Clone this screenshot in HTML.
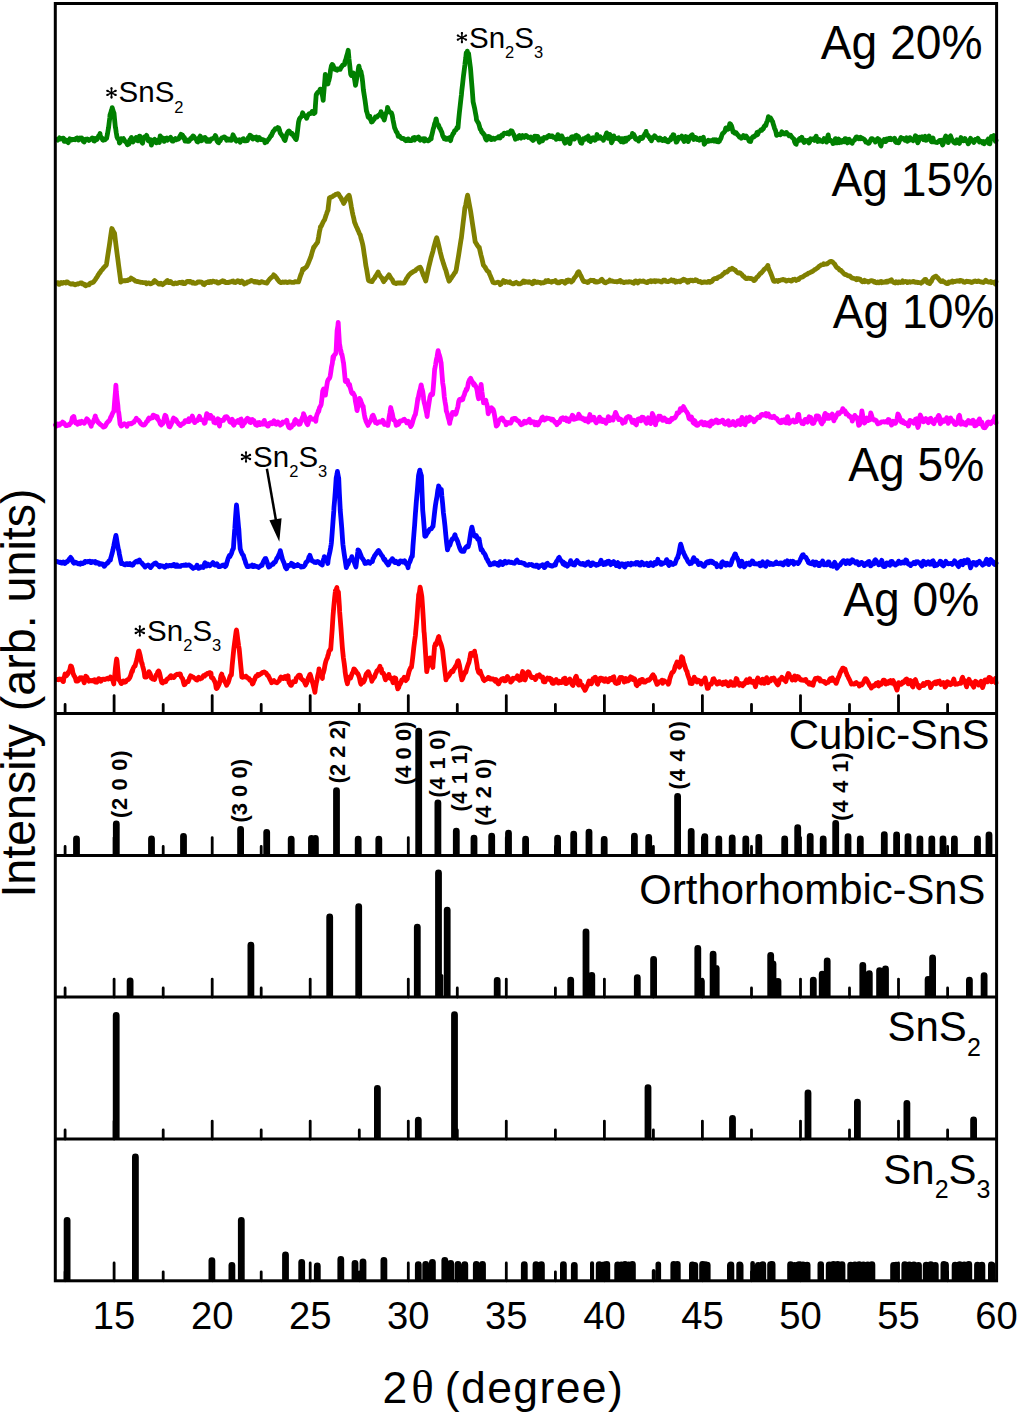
<!DOCTYPE html><html><head><meta charset="utf-8"><style>html,body{margin:0;padding:0;background:#fff;}svg{display:block}</style></head><body>
<svg width="1019" height="1414" viewBox="0 0 1019 1414">
<rect width="1019" height="1414" fill="#fff"/>
<path d="M57.0 139.5 L57.8 140.1 L58.6 138.9 L59.4 137.9 L60.2 139.0 L61.0 138.7 L61.8 138.4 L62.6 138.4 L63.4 138.2 L64.2 141.3 L65.0 141.4 L65.8 141.0 L66.0 140.0 L66.6 140.9 L67.4 141.8 L68.2 142.6 L69.0 140.3 L69.8 138.8 L70.6 139.3 L71.4 140.0 L72.2 139.6 L73.0 139.3 L73.8 139.6 L74.6 139.4 L75.0 139.0 L75.4 139.6 L76.2 138.7 L77.0 137.9 L77.8 138.1 L78.6 140.1 L79.4 139.3 L80.2 138.1 L81.0 138.8 L81.8 138.1 L82.6 139.9 L83.4 141.6 L84.2 141.9 L85.0 139.5 L85.8 139.1 L86.6 139.8 L87.4 139.0 L88.2 139.5 L89.0 140.5 L89.8 139.8 L90.6 139.3 L91.4 138.8 L92.2 138.0 L93.0 138.3 L93.8 140.9 L94.6 141.0 L95.4 138.5 L96.2 139.3 L97.0 139.5 L97.8 137.9 L98.6 136.0 L99.4 135.2 L100.0 133.5 L100.2 135.4 L101.0 137.2 L101.8 138.0 L102.6 139.8 L103.0 139.5 L103.4 140.2 L104.2 139.3 L105.0 139.7 L105.8 138.9 L106.5 138.5 L106.6 138.2 L107.4 134.3 L108.2 129.7 L108.5 128.0 L109.0 124.0 L109.8 117.7 L110.0 115.0 L110.6 113.5 L111.4 110.4 L112.1 108.5 L112.2 107.6 L113.0 110.6 L113.8 112.9 L114.0 113.0 L114.6 119.8 L115.4 127.7 L115.5 127.0 L116.2 132.4 L117.0 137.0 L117.8 138.8 L118.6 139.5 L119.0 139.5 L119.4 143.1 L120.2 142.3 L121.0 138.7 L121.8 139.9 L122.6 139.1 L123.4 138.6 L124.2 140.1 L125.0 141.3 L125.8 142.1 L126.6 143.1 L127.4 144.8 L128.2 143.3 L129.0 144.0 L129.8 139.7 L130.6 139.2 L131.4 137.4 L132.2 139.8 L133.0 141.9 L133.8 140.6 L134.6 140.3 L135.4 138.8 L136.2 137.4 L137.0 137.9 L137.8 140.9 L138.6 140.1 L139.4 136.1 L140.2 136.3 L141.0 137.9 L141.8 142.3 L142.6 143.2 L143.4 138.4 L144.2 137.9 L145.0 136.7 L145.8 136.6 L146.6 135.4 L147.4 137.6 L148.2 140.7 L149.0 141.1 L149.8 139.8 L150.6 139.6 L151.4 145.2 L152.2 141.7 L153.0 141.4 L153.8 140.0 L154.6 139.3 L155.4 141.8 L156.2 142.9 L157.0 142.6 L157.8 140.3 L158.6 141.7 L159.4 142.4 L160.2 135.9 L161.0 136.9 L161.8 138.2 L162.6 137.9 L163.4 139.1 L164.2 141.4 L165.0 138.4 L165.8 138.5 L166.6 138.0 L167.4 140.2 L168.2 139.5 L169.0 138.6 L169.8 138.1 L170.6 137.4 L171.4 138.9 L172.2 141.1 L173.0 141.2 L173.8 140.2 L174.6 139.3 L175.4 138.5 L176.2 139.7 L177.0 139.1 L177.8 139.3 L178.6 139.0 L179.4 137.2 L180.2 135.8 L181.0 134.3 L181.8 135.7 L182.6 135.2 L183.4 138.1 L184.2 137.2 L185.0 141.1 L185.8 140.5 L186.6 140.1 L187.4 141.3 L188.2 141.2 L189.0 141.3 L189.8 140.0 L190.6 138.5 L191.4 138.7 L192.2 137.0 L193.0 136.0 L193.8 136.4 L194.6 137.9 L195.4 138.6 L196.2 138.9 L197.0 141.4 L197.8 141.9 L198.6 139.2 L199.4 137.5 L200.2 136.1 L201.0 140.8 L201.8 140.7 L202.6 137.7 L203.4 138.4 L204.2 137.8 L205.0 137.4 L205.8 138.5 L206.6 141.3 L207.4 141.2 L208.2 141.4 L209.0 139.8 L209.8 141.3 L210.6 140.0 L211.4 139.0 L212.2 138.9 L213.0 138.3 L213.8 137.9 L214.6 137.0 L215.4 135.5 L216.2 137.2 L217.0 141.1 L217.8 142.1 L218.6 142.8 L219.4 141.1 L220.2 141.0 L221.0 138.9 L221.8 137.9 L222.6 137.8 L223.4 137.4 L224.2 136.9 L225.0 137.4 L225.8 137.8 L226.6 140.2 L227.4 139.5 L228.2 140.0 L229.0 139.1 L229.8 140.0 L230.6 140.1 L231.4 140.3 L232.2 138.1 L233.0 134.8 L233.8 136.4 L234.6 137.9 L235.4 140.1 L236.2 141.1 L237.0 140.2 L237.8 140.0 L238.6 140.6 L239.4 139.9 L240.2 142.3 L241.0 140.1 L241.8 139.9 L242.6 139.1 L243.4 138.7 L244.2 140.7 L245.0 140.4 L245.8 140.9 L246.6 140.3 L247.4 140.5 L248.2 137.7 L249.0 137.6 L249.8 135.2 L250.6 135.3 L251.4 136.8 L252.2 138.6 L253.0 139.0 L253.8 137.3 L254.6 137.8 L255.4 137.6 L256.2 137.1 L257.0 139.7 L257.8 140.1 L258.6 139.1 L259.4 137.6 L260.0 138.9 L260.2 139.0 L261.0 139.7 L261.8 139.5 L262.6 139.6 L263.4 139.8 L264.2 140.2 L265.0 142.7 L265.8 141.0 L266.6 141.4 L266.9 141.7 L267.4 140.5 L268.2 139.9 L269.0 138.7 L269.8 137.6 L270.6 135.9 L271.4 135.9 L272.2 133.2 L272.4 133.4 L273.0 131.7 L273.8 130.8 L274.6 129.9 L275.4 128.7 L276.2 128.9 L277.0 128.7 L277.8 127.6 L277.9 127.9 L278.6 127.8 L279.4 129.6 L280.2 133.0 L281.0 134.0 L281.8 135.1 L282.6 136.3 L283.4 137.6 L284.2 139.5 L284.7 140.3 L285.0 140.5 L285.8 137.7 L286.6 134.7 L287.4 132.7 L288.2 131.4 L289.0 131.0 L289.8 131.8 L290.6 132.9 L291.4 134.0 L292.2 133.6 L293.0 134.8 L293.8 136.4 L294.6 137.3 L295.4 138.7 L296.2 139.5 L296.4 138.9 L297.0 135.6 L297.8 128.5 L298.5 122.4 L298.6 121.9 L299.4 119.0 L300.2 117.7 L301.0 117.0 L301.8 116.1 L302.6 112.8 L303.4 114.7 L304.2 115.5 L305.0 115.8 L305.8 116.3 L306.6 118.3 L306.7 118.3 L307.4 116.1 L308.2 114.9 L309.0 113.8 L309.8 113.6 L310.6 113.5 L311.4 112.9 L312.2 111.4 L313.0 113.3 L313.8 113.6 L314.6 111.6 L315.0 112.8 L315.4 105.8 L316.2 94.7 L316.3 95.0 L317.0 93.3 L317.8 92.4 L318.6 91.9 L319.4 91.3 L320.2 89.1 L320.4 89.5 L321.0 91.5 L321.8 93.1 L322.6 96.5 L323.2 100.4 L323.4 97.2 L324.2 87.9 L325.0 78.4 L325.3 74.3 L325.8 76.5 L326.6 78.8 L327.4 81.5 L328.0 84.0 L328.2 82.3 L329.0 80.1 L329.8 76.5 L330.6 69.9 L331.4 66.0 L332.1 64.7 L332.2 64.5 L333.0 65.3 L333.8 67.1 L334.6 69.2 L335.4 68.8 L336.2 69.8 L336.9 70.2 L337.0 69.8 L337.8 68.9 L338.6 69.4 L339.4 69.3 L340.2 69.4 L341.0 67.3 L341.1 67.5 L341.8 66.7 L342.6 65.2 L343.4 65.0 L344.2 64.1 L344.5 64.7 L345.0 61.4 L345.8 59.5 L346.6 56.2 L347.4 53.7 L348.2 50.3 L349.0 59.0 L349.8 65.7 L350.6 73.5 L350.7 74.3 L351.4 75.5 L352.2 75.3 L353.0 74.0 L353.4 73.0 L353.8 75.3 L354.6 79.5 L355.4 84.6 L355.5 85.3 L356.2 81.6 L357.0 76.6 L357.8 73.1 L358.6 67.2 L358.9 66.1 L359.4 68.1 L360.2 70.8 L361.0 71.7 L361.7 75.7 L361.8 75.2 L362.6 81.6 L363.4 90.0 L364.2 95.0 L365.0 100.1 L365.8 105.9 L366.5 111.4 L366.6 111.1 L367.4 113.9 L368.2 117.1 L369.0 117.6 L369.8 116.2 L370.6 119.9 L371.3 121.1 L371.4 122.0 L372.2 121.7 L373.0 120.7 L373.8 119.6 L374.6 118.7 L375.4 117.0 L376.2 117.3 L376.8 116.9 L377.0 117.0 L377.8 115.9 L378.6 115.1 L379.4 115.1 L380.2 113.6 L380.9 112.8 L381.0 111.6 L381.8 114.3 L382.6 117.0 L383.4 117.8 L384.2 120.0 L384.3 119.7 L385.0 116.7 L385.8 113.4 L386.6 112.6 L387.4 109.4 L387.5 107.3 L388.2 109.3 L389.0 111.0 L389.8 112.0 L390.6 112.6 L391.4 112.8 L391.9 114.2 L392.2 115.2 L393.0 119.9 L393.8 123.8 L394.6 127.9 L395.4 129.5 L396.2 131.7 L397.0 132.4 L397.8 134.5 L398.2 136.2 L398.6 135.5 L399.4 136.0 L400.2 137.1 L401.0 137.9 L401.8 138.4 L402.6 138.6 L403.4 138.4 L404.2 139.1 L405.0 140.1 L405.8 140.7 L406.5 140.3 L406.6 140.6 L407.4 139.1 L408.2 139.0 L409.0 140.4 L409.8 139.9 L410.6 140.6 L411.4 140.6 L412.2 140.2 L413.0 138.0 L413.8 138.7 L414.6 139.9 L414.7 137.5 L415.4 138.0 L416.2 138.7 L417.0 137.7 L417.8 138.0 L418.6 137.1 L419.4 139.3 L420.2 140.2 L421.0 139.0 L421.8 139.1 L422.6 139.0 L423.4 138.7 L424.2 139.1 L424.3 141.0 L425.0 138.8 L425.8 140.0 L426.6 140.2 L427.4 140.4 L428.2 140.9 L429.0 140.3 L429.8 139.4 L430.6 138.1 L431.2 138.9 L431.4 136.5 L432.2 133.7 L433.0 129.9 L433.5 128.0 L433.8 127.5 L434.6 123.8 L435.4 121.9 L436.0 119.0 L436.2 119.0 L437.0 122.9 L437.8 124.6 L438.6 125.2 L439.4 127.8 L439.5 127.9 L440.2 128.7 L441.0 130.7 L441.8 132.2 L442.6 135.2 L443.4 137.1 L444.2 138.2 L444.3 138.9 L445.0 137.6 L445.8 139.3 L446.6 139.4 L447.4 138.7 L448.2 138.2 L449.0 137.8 L449.8 139.4 L450.4 140.3 L450.6 140.6 L451.4 137.0 L452.2 135.6 L453.0 133.8 L453.8 133.0 L454.6 130.7 L455.4 130.2 L456.2 129.7 L457.0 127.6 L457.8 127.1 L458.0 127.9 L458.6 120.5 L459.4 112.6 L460.2 105.6 L461.0 98.2 L461.4 95.0 L461.8 90.6 L462.6 83.9 L463.4 76.6 L464.2 70.4 L464.9 64.7 L465.0 63.5 L465.8 57.4 L466.2 53.0 L466.6 54.4 L467.3 51.2 L467.4 53.6 L468.2 54.5 L468.6 53.5 L469.0 56.9 L469.8 63.1 L470.4 67.5 L470.6 69.4 L471.4 79.7 L472.2 89.4 L473.0 100.1 L473.1 101.8 L473.8 104.8 L474.6 108.2 L475.4 112.7 L476.2 116.8 L476.5 119.7 L477.0 120.8 L477.8 122.1 L478.6 123.3 L479.4 126.1 L480.2 129.2 L480.7 129.3 L481.0 129.9 L481.8 132.2 L482.6 132.5 L483.4 134.0 L484.2 134.4 L485.0 137.0 L485.8 139.3 L486.2 137.5 L486.6 140.1 L487.4 137.9 L488.2 136.5 L489.0 136.6 L489.8 136.9 L490.6 139.2 L491.4 139.7 L492.2 139.3 L493.0 138.1 L493.8 138.3 L494.4 138.9 L494.6 139.2 L495.4 138.3 L496.2 138.3 L497.0 137.8 L497.8 137.9 L498.6 136.6 L499.4 136.9 L500.2 137.9 L501.0 135.9 L501.8 135.0 L502.6 135.8 L503.4 134.1 L504.2 133.2 L505.0 133.3 L505.8 133.3 L506.6 133.6 L506.8 133.4 L507.4 132.6 L508.2 132.9 L509.0 134.0 L509.8 132.9 L510.6 131.1 L510.9 130.7 L511.4 131.5 L512.2 131.3 L513.0 133.5 L513.8 134.6 L514.6 136.8 L515.0 137.5 L515.4 139.2 L516.2 137.8 L517.0 137.8 L517.8 138.3 L518.6 136.3 L519.4 135.5 L520.2 137.1 L521.0 138.1 L521.8 136.7 L522.6 135.6 L523.4 136.3 L524.2 137.4 L525.0 136.1 L525.8 135.4 L526.6 135.9 L527.4 136.5 L528.2 137.5 L529.0 137.3 L529.8 137.5 L530.0 137.5 L530.6 137.1 L531.4 139.0 L532.2 139.6 L533.0 140.5 L533.8 139.7 L534.6 136.3 L535.4 137.7 L536.2 136.3 L537.0 138.2 L537.8 136.5 L538.6 140.0 L539.4 142.2 L540.2 141.5 L541.0 140.0 L541.8 138.7 L542.6 140.7 L543.4 139.2 L544.2 137.5 L545.0 137.8 L545.8 138.2 L546.6 138.1 L547.4 136.4 L548.2 136.7 L549.0 135.4 L549.8 136.2 L550.6 136.5 L551.4 135.9 L552.2 136.0 L553.0 137.2 L553.8 136.9 L554.6 137.6 L555.4 137.5 L556.2 139.3 L557.0 138.3 L557.8 134.7 L558.6 137.6 L559.4 138.9 L560.2 138.9 L561.0 136.0 L561.8 136.0 L562.6 137.8 L563.4 138.7 L564.2 141.5 L565.0 143.2 L565.8 142.0 L566.6 139.5 L567.4 139.1 L568.2 141.1 L569.0 142.3 L569.8 143.6 L570.6 140.3 L571.4 137.1 L572.2 136.8 L573.0 138.8 L573.8 139.1 L574.6 139.0 L575.4 135.7 L576.2 135.3 L577.0 136.8 L577.8 136.0 L578.6 136.9 L579.4 138.9 L580.2 141.5 L581.0 143.0 L581.8 143.2 L582.6 140.6 L583.4 138.7 L584.2 138.7 L585.0 139.2 L585.8 137.8 L586.6 138.6 L587.4 136.9 L588.2 136.1 L589.0 140.5 L589.8 140.2 L590.6 141.4 L591.4 139.5 L592.2 138.1 L593.0 137.8 L593.8 139.1 L594.6 140.2 L595.4 139.9 L596.2 138.7 L597.0 134.5 L597.8 138.0 L598.6 138.4 L599.4 137.6 L600.2 136.9 L601.0 137.9 L601.8 138.7 L602.6 138.4 L603.4 140.3 L604.2 137.8 L605.0 136.8 L605.8 135.4 L606.6 132.9 L607.4 135.1 L608.2 138.4 L609.0 138.0 L609.8 134.4 L610.6 136.0 L611.4 142.8 L612.2 141.7 L613.0 139.6 L613.8 135.9 L614.6 138.7 L615.4 138.2 L616.2 138.3 L617.0 138.6 L617.8 138.2 L618.6 137.7 L619.4 140.0 L620.2 140.1 L621.0 141.7 L621.8 138.6 L622.6 138.8 L623.4 142.1 L624.2 138.7 L625.0 138.2 L625.8 141.3 L626.6 139.2 L627.4 137.9 L628.0 139.3 L628.2 138.9 L629.0 138.0 L629.8 136.9 L630.6 136.8 L631.4 136.6 L632.2 135.3 L632.4 133.4 L633.0 134.8 L633.8 134.5 L634.6 136.1 L635.4 138.7 L636.0 139.3 L636.2 138.6 L637.0 138.7 L637.8 139.8 L638.6 141.1 L639.4 138.7 L640.2 137.4 L641.0 137.9 L641.8 137.7 L642.0 138.5 L642.6 138.2 L643.4 136.2 L644.2 135.2 L645.0 133.6 L645.8 132.8 L646.1 131.4 L646.6 133.7 L647.4 135.6 L648.2 135.5 L649.0 137.1 L649.8 137.4 L650.0 139.0 L650.6 137.5 L651.4 140.8 L652.2 139.0 L653.0 137.7 L653.8 137.1 L654.6 135.8 L655.4 136.6 L656.2 137.9 L657.0 137.9 L657.8 138.6 L658.6 140.1 L659.4 139.5 L660.2 138.0 L661.0 139.8 L661.8 139.3 L662.6 140.6 L663.4 140.2 L664.2 139.7 L665.0 138.6 L665.8 140.9 L666.6 140.0 L667.4 141.6 L668.2 141.8 L669.0 140.6 L669.8 139.5 L670.6 139.8 L671.4 137.0 L672.2 137.1 L673.0 134.7 L673.8 134.8 L674.6 138.8 L675.4 138.8 L676.2 142.1 L677.0 141.6 L677.8 139.7 L678.6 137.3 L679.4 138.4 L680.2 138.0 L681.0 137.3 L681.8 136.1 L682.6 136.9 L683.4 140.1 L684.2 141.4 L685.0 138.1 L685.8 136.6 L686.6 137.0 L687.4 139.7 L688.2 141.5 L689.0 139.6 L689.8 136.9 L690.6 136.0 L691.4 135.3 L692.2 134.7 L693.0 136.6 L693.8 139.5 L694.6 137.4 L695.4 137.5 L696.2 137.8 L697.0 139.5 L697.8 139.2 L698.6 139.2 L699.4 140.2 L700.2 138.3 L701.0 139.7 L701.8 139.3 L702.6 139.2 L703.4 137.3 L704.2 144.3 L705.0 143.3 L705.8 141.6 L706.6 141.6 L707.4 141.1 L708.2 140.3 L709.0 141.2 L709.8 140.7 L710.6 140.7 L711.4 140.8 L712.2 140.7 L713.0 139.9 L713.8 140.9 L714.6 139.7 L715.4 140.9 L716.2 139.7 L717.0 141.6 L717.8 140.9 L718.6 141.8 L719.4 141.2 L720.0 139.3 L720.2 139.7 L721.0 138.2 L721.8 135.4 L722.6 133.5 L723.4 132.9 L724.2 132.2 L725.0 131.1 L725.6 128.5 L725.8 128.1 L726.6 127.8 L727.4 128.2 L728.2 129.2 L729.0 127.3 L729.8 123.6 L730.6 124.2 L731.1 125.5 L731.4 125.4 L732.2 128.1 L733.0 132.1 L733.8 131.5 L734.6 133.2 L735.4 133.4 L736.2 132.8 L737.0 133.9 L737.8 135.1 L738.6 135.7 L739.4 137.1 L740.2 136.9 L741.0 137.3 L741.3 138.3 L741.8 137.6 L742.6 136.8 L743.4 135.6 L744.2 137.3 L745.0 137.8 L745.8 137.1 L746.2 136.0 L746.6 136.8 L747.4 137.6 L748.2 138.8 L749.0 140.9 L749.8 141.4 L750.1 141.2 L750.6 141.5 L751.4 138.8 L752.2 137.7 L753.0 136.6 L753.8 137.0 L754.6 136.2 L755.4 135.2 L756.2 135.3 L757.0 132.4 L757.8 134.4 L758.6 131.8 L759.4 131.5 L760.2 130.8 L761.0 129.8 L761.8 130.2 L762.6 128.9 L762.9 128.5 L763.4 128.7 L764.2 126.4 L765.0 125.3 L765.8 125.5 L766.6 122.6 L767.4 120.9 L768.2 118.0 L768.4 116.7 L769.0 118.0 L769.8 118.6 L770.6 118.1 L771.4 119.5 L772.2 121.3 L772.7 121.6 L773.0 123.2 L773.8 125.7 L774.6 128.5 L775.4 130.1 L776.2 133.0 L776.6 135.3 L777.0 134.7 L777.8 134.2 L778.6 134.6 L779.4 134.3 L780.2 134.8 L781.0 134.4 L781.8 131.8 L782.6 133.2 L783.4 133.7 L784.2 133.2 L785.0 134.0 L785.8 133.8 L786.5 132.4 L786.6 133.0 L787.4 133.8 L788.2 134.4 L789.0 135.7 L789.8 135.4 L790.6 135.2 L791.4 136.6 L792.2 137.6 L793.0 138.2 L793.8 138.8 L794.6 141.9 L795.4 143.6 L796.2 144.3 L796.3 142.2 L797.0 141.9 L797.8 141.3 L798.6 139.5 L799.4 139.4 L800.0 140.0 L800.2 138.2 L801.0 139.9 L801.8 137.2 L802.6 140.4 L803.4 141.2 L804.2 142.5 L805.0 140.3 L805.8 140.7 L806.6 140.7 L807.4 140.4 L808.2 141.9 L809.0 142.9 L809.8 141.7 L810.6 138.7 L811.4 139.2 L812.2 139.5 L813.0 139.2 L813.8 138.5 L814.6 140.4 L815.4 137.7 L816.2 136.2 L817.0 140.1 L817.8 141.5 L818.6 139.3 L819.4 139.5 L820.2 141.1 L821.0 141.0 L821.8 140.8 L822.6 141.6 L823.4 140.3 L824.2 138.6 L825.0 139.0 L825.8 141.2 L826.6 142.0 L827.4 137.7 L828.2 134.9 L829.0 140.1 L829.8 140.6 L830.6 140.3 L831.4 141.1 L832.2 141.5 L833.0 143.5 L833.8 143.2 L834.6 140.9 L835.4 138.6 L836.2 140.6 L837.0 142.9 L837.8 140.1 L838.6 139.1 L839.4 142.7 L840.2 141.6 L841.0 140.9 L841.8 142.2 L842.6 140.4 L843.4 141.4 L844.2 141.7 L845.0 138.7 L845.8 138.6 L846.6 141.2 L847.4 142.9 L848.2 139.7 L849.0 139.2 L849.8 140.4 L850.6 142.3 L851.4 142.2 L852.2 143.3 L853.0 141.0 L853.8 140.5 L854.6 140.1 L855.4 138.3 L856.2 137.1 L857.0 136.9 L857.8 137.8 L858.6 138.8 L859.4 138.0 L860.2 137.4 L861.0 138.7 L861.8 137.9 L862.6 138.6 L863.4 138.9 L864.2 139.4 L865.0 140.2 L865.8 142.1 L866.6 141.9 L867.4 142.3 L868.2 143.4 L869.0 143.2 L869.8 141.6 L870.6 139.9 L871.4 138.6 L872.2 138.6 L873.0 139.9 L873.8 140.0 L874.6 140.0 L875.4 142.1 L876.2 140.8 L877.0 139.6 L877.8 138.6 L878.6 139.5 L879.4 139.7 L880.2 144.4 L881.0 146.0 L881.8 141.6 L882.6 142.4 L883.4 141.1 L884.2 139.5 L885.0 140.9 L885.8 141.5 L886.6 139.0 L887.4 139.6 L888.2 139.8 L889.0 138.4 L889.8 139.5 L890.6 138.2 L891.4 139.7 L892.2 139.2 L893.0 138.9 L893.8 139.1 L894.6 138.2 L895.4 141.8 L896.2 142.5 L897.0 142.3 L897.8 140.9 L898.6 142.8 L899.4 140.9 L900.2 139.5 L901.0 137.5 L901.8 138.9 L902.6 138.4 L903.4 138.5 L904.2 138.9 L905.0 140.2 L905.8 139.1 L906.6 137.8 L907.4 141.3 L908.2 139.0 L909.0 140.4 L909.8 137.6 L910.6 138.6 L911.4 139.9 L912.2 139.6 L913.0 140.7 L913.8 140.0 L914.6 138.5 L915.4 135.7 L916.2 136.2 L917.0 140.9 L917.8 142.8 L918.6 141.2 L919.4 137.1 L920.2 137.9 L921.0 137.2 L921.8 136.8 L922.6 138.1 L923.4 139.7 L924.2 137.0 L925.0 136.3 L925.8 140.3 L926.6 140.2 L927.4 139.0 L928.2 138.0 L929.0 136.0 L929.8 138.0 L930.6 140.1 L931.4 141.8 L932.2 139.0 L933.0 138.0 L933.8 141.9 L934.6 141.9 L935.4 142.1 L936.2 142.3 L937.0 142.6 L937.8 142.2 L938.6 141.2 L939.4 140.5 L940.2 140.8 L941.0 140.2 L941.8 142.5 L942.6 145.0 L943.4 143.3 L944.2 139.5 L945.0 138.0 L945.8 135.9 L946.6 137.2 L947.4 137.9 L948.2 142.6 L949.0 140.3 L949.8 136.7 L950.6 135.9 L951.4 138.4 L952.2 139.8 L953.0 141.2 L953.8 142.3 L954.6 142.9 L955.4 141.6 L956.2 143.0 L957.0 139.8 L957.8 140.3 L958.6 142.0 L959.4 143.4 L960.2 141.2 L961.0 137.5 L961.8 139.1 L962.6 140.7 L963.4 140.8 L964.2 140.0 L965.0 138.6 L965.8 140.9 L966.6 141.1 L967.4 141.9 L968.2 143.7 L969.0 142.7 L969.8 139.9 L970.6 138.3 L971.4 140.4 L972.2 140.0 L973.0 140.8 L973.8 142.5 L974.6 141.3 L975.4 139.5 L976.2 139.7 L977.0 139.3 L977.8 138.4 L978.6 139.6 L979.4 142.0 L980.2 141.4 L981.0 141.2 L981.8 141.7 L982.6 142.9 L983.4 141.6 L984.2 143.8 L985.0 141.9 L985.8 141.8 L986.6 141.1 L987.4 140.5 L988.2 139.1 L989.0 143.5 L989.8 143.8 L990.6 139.3 L991.4 136.5 L992.2 138.3 L993.0 136.5 L993.8 135.6 L994.6 137.3 L995.4 141.3 L996.0 140.5" fill="none" stroke="#008000" stroke-width="4.8" stroke-linejoin="round" stroke-linecap="round"/>
<path d="M57.0 282.8 L57.8 282.6 L58.6 284.3 L59.4 284.3 L60.2 283.1 L61.0 282.5 L61.8 283.3 L62.6 283.3 L63.4 282.5 L64.2 282.5 L65.0 282.7 L65.8 283.1 L66.6 281.9 L67.4 281.8 L68.2 282.8 L69.0 283.3 L69.8 283.3 L70.6 284.0 L71.4 284.0 L72.2 284.1 L73.0 283.7 L73.8 284.3 L74.6 284.7 L75.4 284.9 L76.2 284.3 L77.0 284.0 L77.8 284.1 L78.6 283.6 L79.4 283.6 L80.2 283.0 L81.0 283.0 L81.8 282.9 L82.6 284.1 L83.4 284.1 L84.2 284.2 L85.0 285.4 L85.8 285.8 L86.6 285.0 L87.4 285.2 L88.2 284.6 L89.0 284.9 L89.8 283.5 L90.6 283.0 L91.4 283.0 L92.2 282.4 L93.0 282.4 L93.8 281.7 L94.0 281.4 L94.6 280.5 L95.4 279.5 L96.2 278.1 L97.0 277.2 L97.8 275.6 L98.6 274.4 L99.4 273.1 L99.5 273.2 L100.2 272.4 L101.0 270.9 L101.8 270.0 L102.6 269.2 L103.4 268.0 L104.2 267.2 L105.0 266.3 L105.8 265.6 L106.3 265.0 L106.6 263.4 L107.4 258.1 L108.2 252.8 L109.0 247.7 L109.1 247.1 L109.8 242.3 L110.6 236.7 L111.4 231.2 L111.8 228.5 L112.2 228.9 L113.0 230.6 L113.8 232.2 L114.6 233.4 L115.4 240.6 L116.2 246.8 L117.0 253.0 L117.3 255.3 L117.8 258.9 L118.6 265.2 L119.4 271.1 L120.2 277.1 L120.8 282.1 L121.0 281.9 L121.8 281.2 L122.6 280.9 L123.4 280.6 L124.2 280.9 L125.0 280.7 L125.6 280.8 L125.8 280.8 L126.6 280.5 L127.4 280.6 L128.2 279.9 L129.0 279.7 L129.8 279.8 L130.6 278.8 L131.1 278.0 L131.4 278.6 L132.2 278.8 L133.0 279.3 L133.8 279.8 L134.6 280.3 L135.2 280.8 L135.4 281.2 L136.2 281.2 L137.0 281.5 L137.8 281.4 L138.6 281.7 L139.4 282.0 L140.2 282.2 L141.0 282.4 L141.8 282.4 L142.6 282.4 L143.4 282.7 L144.2 282.7 L145.0 282.8 L145.8 283.2 L146.2 282.8 L146.6 283.7 L147.4 283.1 L148.2 283.1 L149.0 282.9 L149.8 283.6 L150.6 283.8 L151.4 283.7 L152.2 283.1 L153.0 282.8 L153.8 281.4 L154.6 280.5 L155.4 281.2 L156.2 281.8 L157.0 282.7 L157.8 283.1 L158.6 284.0 L159.4 283.6 L160.2 284.1 L161.0 283.2 L161.8 284.1 L162.6 284.7 L163.4 284.0 L164.2 283.4 L165.0 282.5 L165.8 282.6 L166.6 281.1 L167.4 280.5 L168.2 282.5 L169.0 282.7 L169.8 282.6 L170.6 281.5 L171.4 282.6 L172.2 283.1 L173.0 283.9 L173.8 283.9 L174.6 283.4 L175.4 283.0 L176.2 283.4 L177.0 283.5 L177.8 283.3 L178.6 282.6 L179.4 282.5 L180.2 282.5 L181.0 283.0 L181.8 282.2 L182.6 282.2 L183.4 283.7 L184.2 283.6 L185.0 283.5 L185.8 282.7 L186.6 281.8 L187.4 281.3 L188.2 281.5 L189.0 281.4 L189.8 282.1 L190.6 281.5 L191.4 282.0 L192.2 282.9 L193.0 282.3 L193.8 283.0 L194.6 283.4 L195.4 283.3 L196.2 283.1 L197.0 282.9 L197.8 281.8 L198.6 281.8 L199.4 282.0 L200.2 282.0 L201.0 282.3 L201.8 282.2 L202.6 283.1 L203.4 284.3 L204.2 284.7 L205.0 283.8 L205.8 282.6 L206.6 282.5 L207.4 282.5 L208.2 281.7 L209.0 282.5 L209.8 281.6 L210.6 281.4 L211.4 282.2 L212.2 281.4 L213.0 281.1 L213.8 281.3 L214.6 281.8 L215.4 282.0 L216.2 281.6 L217.0 281.9 L217.8 283.1 L218.6 283.0 L219.4 282.7 L220.2 282.2 L221.0 281.5 L221.8 281.5 L222.6 280.7 L223.4 281.5 L224.2 281.2 L225.0 282.4 L225.8 282.5 L226.6 282.4 L227.4 282.5 L228.2 282.6 L229.0 282.4 L229.8 281.9 L230.6 282.1 L231.4 281.5 L232.2 281.2 L233.0 281.0 L233.8 282.4 L234.6 282.4 L235.4 282.5 L236.2 282.2 L237.0 281.1 L237.8 280.7 L238.6 281.0 L239.4 282.0 L240.2 282.6 L241.0 281.9 L241.8 281.0 L242.6 281.8 L243.4 282.7 L244.2 283.9 L245.0 283.2 L245.8 283.4 L246.6 283.0 L247.4 281.9 L248.2 281.9 L249.0 281.8 L249.8 281.2 L250.6 280.9 L251.4 280.4 L252.2 280.8 L253.0 281.4 L253.8 281.4 L254.6 282.1 L255.4 281.5 L256.2 282.3 L257.0 281.6 L257.8 282.1 L258.6 282.8 L259.4 282.6 L260.0 282.3 L260.2 282.6 L261.0 281.9 L261.8 281.7 L262.6 282.1 L263.4 282.1 L264.2 282.7 L265.0 282.6 L265.8 282.9 L266.6 282.7 L266.9 283.0 L267.4 282.5 L268.2 280.9 L269.0 279.9 L269.8 278.9 L270.6 278.2 L271.4 277.4 L272.2 277.0 L273.0 276.1 L273.7 274.8 L273.8 275.3 L274.6 275.5 L275.4 276.4 L276.2 277.4 L277.0 278.6 L277.8 279.8 L278.6 280.8 L279.4 281.8 L280.2 282.2 L280.6 282.3 L281.0 282.7 L281.8 282.5 L282.6 282.0 L283.4 282.1 L284.2 282.3 L285.0 281.9 L285.8 282.0 L286.6 282.4 L287.4 282.5 L287.5 282.3 L288.2 282.4 L289.0 282.0 L289.8 282.1 L290.6 281.8 L291.4 282.4 L292.2 282.3 L293.0 282.4 L293.8 282.4 L294.6 281.9 L295.4 281.6 L296.2 281.9 L297.0 281.9 L297.8 281.9 L298.5 281.7 L298.6 281.8 L299.4 279.3 L300.2 276.6 L301.0 274.4 L301.8 272.8 L302.6 269.3 L303.4 269.9 L304.2 268.6 L305.0 268.1 L305.8 267.5 L306.6 266.8 L306.7 266.5 L307.4 265.1 L308.2 263.4 L309.0 261.4 L309.8 259.4 L310.6 257.5 L310.8 256.9 L311.4 255.0 L312.2 252.0 L313.0 249.5 L313.6 247.3 L313.8 247.7 L314.6 246.3 L315.4 245.3 L316.2 244.0 L317.0 243.1 L317.7 241.8 L317.8 241.1 L318.6 236.9 L319.4 232.1 L320.2 228.4 L320.4 226.7 L321.0 226.5 L321.8 225.0 L322.6 223.1 L323.4 221.5 L324.2 220.2 L324.6 219.8 L325.0 218.4 L325.8 215.9 L326.6 213.7 L327.4 211.3 L328.0 210.2 L328.2 207.7 L329.0 201.1 L329.4 197.9 L329.8 197.8 L330.6 197.1 L331.4 197.1 L332.2 196.7 L332.8 196.5 L333.0 196.2 L333.8 195.4 L334.6 195.4 L335.4 194.6 L336.2 194.3 L337.0 194.0 L337.8 194.5 L338.3 193.7 L338.6 194.3 L339.4 195.6 L340.2 196.8 L341.0 198.0 L341.1 197.9 L341.8 199.8 L342.6 201.1 L343.4 202.9 L343.8 203.4 L344.2 202.5 L345.0 201.2 L345.8 199.4 L346.6 197.9 L347.4 196.9 L348.2 196.0 L349.0 195.2 L349.3 195.8 L349.8 198.0 L350.6 202.4 L351.4 207.2 L352.0 210.2 L352.2 211.4 L353.0 215.2 L353.8 218.5 L354.6 222.4 L354.8 222.6 L355.4 224.4 L356.2 226.3 L357.0 227.8 L357.8 229.9 L358.6 231.5 L359.4 233.8 L360.2 234.8 L360.3 235.0 L361.0 238.2 L361.8 240.9 L362.6 244.0 L363.0 245.9 L363.4 248.4 L364.2 254.0 L365.0 259.1 L365.8 265.2 L366.6 269.2 L367.4 274.0 L368.2 279.0 L368.5 280.3 L369.0 280.8 L369.8 281.2 L370.6 281.3 L371.4 281.6 L372.0 281.7 L372.2 281.5 L373.0 279.9 L373.8 279.0 L374.6 278.0 L375.4 276.5 L376.2 275.4 L377.0 274.0 L377.8 272.7 L378.1 272.0 L378.6 273.2 L379.4 274.8 L380.2 276.1 L381.0 277.1 L381.8 277.8 L382.6 279.5 L383.4 281.0 L383.6 281.7 L384.2 280.7 L385.0 280.1 L385.8 278.6 L386.6 278.0 L387.4 277.1 L388.2 275.9 L389.0 275.0 L389.1 274.8 L389.8 276.2 L390.6 277.5 L391.4 278.8 L392.2 279.5 L393.0 281.4 L393.8 282.9 L394.6 283.0 L395.4 283.1 L396.2 283.5 L397.0 283.1 L397.8 282.8 L398.6 283.0 L399.4 283.0 L400.2 282.7 L401.0 283.1 L401.8 283.1 L402.6 283.2 L403.4 283.2 L403.7 283.0 L404.2 282.8 L405.0 281.3 L405.8 280.2 L406.6 278.4 L407.4 277.3 L408.2 276.1 L409.0 275.1 L409.8 274.2 L410.6 273.4 L411.4 272.9 L412.2 272.4 L413.0 271.7 L413.8 271.5 L414.6 270.9 L415.4 270.7 L416.2 269.5 L417.0 269.0 L417.8 268.4 L418.6 267.8 L419.4 267.5 L420.2 267.2 L421.0 268.6 L421.8 271.1 L422.6 273.0 L423.4 275.4 L424.2 277.0 L425.0 279.0 L425.7 281.0 L425.8 280.7 L426.6 276.9 L427.4 273.4 L428.2 269.8 L429.0 266.1 L429.8 262.9 L430.6 259.6 L431.2 256.9 L431.4 256.7 L432.2 253.7 L433.0 251.1 L433.8 247.5 L434.6 244.6 L435.4 241.7 L436.2 239.0 L436.7 237.7 L437.0 238.6 L437.8 241.7 L438.6 244.9 L439.4 248.2 L440.2 251.8 L441.0 255.0 L441.5 256.9 L441.8 258.3 L442.6 260.6 L443.4 263.4 L444.2 265.6 L445.0 268.2 L445.8 270.1 L446.6 273.1 L447.4 276.0 L448.2 278.4 L449.0 281.2 L449.1 281.0 L449.8 280.3 L450.6 278.8 L451.4 277.9 L452.2 276.6 L453.0 275.5 L453.8 274.3 L454.6 273.0 L455.4 272.1 L455.9 270.7 L456.2 269.9 L457.0 264.8 L457.8 260.2 L458.6 255.4 L459.4 250.2 L460.2 245.0 L461.0 239.9 L461.4 237.7 L461.8 234.2 L462.6 227.4 L463.4 220.4 L464.2 214.1 L464.9 207.5 L465.0 207.9 L465.8 204.5 L466.6 199.9 L467.4 196.1 L467.6 195.1 L468.2 198.3 L469.0 202.7 L469.8 206.9 L470.6 211.1 L471.1 214.3 L471.4 216.4 L472.2 221.9 L473.0 227.2 L473.8 232.4 L474.6 237.6 L475.2 241.8 L475.4 242.2 L476.2 243.3 L477.0 244.8 L477.8 246.0 L478.6 247.1 L479.3 247.3 L479.4 248.3 L480.2 251.6 L481.0 255.1 L481.8 258.1 L482.6 261.6 L483.4 265.2 L484.2 266.1 L485.0 267.0 L485.8 268.5 L486.6 269.8 L487.4 271.0 L488.2 271.5 L488.9 272.0 L489.0 272.6 L489.8 274.6 L490.6 276.4 L491.4 278.5 L492.2 280.3 L493.0 282.3 L493.8 282.7 L494.6 282.9 L495.4 282.8 L496.2 282.7 L497.0 282.5 L497.8 282.2 L498.6 282.3 L499.4 282.7 L499.9 283.0 L500.2 284.7 L501.0 284.1 L501.8 282.9 L502.6 282.0 L503.4 280.6 L504.2 281.8 L505.0 282.5 L505.8 281.4 L506.6 281.9 L507.4 281.9 L508.2 282.3 L509.0 282.4 L509.8 281.8 L510.6 283.0 L511.4 283.2 L512.2 283.5 L513.0 283.9 L513.8 283.9 L514.6 283.0 L515.4 282.7 L516.2 282.3 L517.0 282.9 L517.8 283.2 L518.6 283.9 L519.4 283.9 L520.2 283.8 L521.0 283.2 L521.8 283.2 L522.6 281.9 L523.4 281.0 L524.2 281.2 L525.0 282.4 L525.8 282.0 L526.6 281.6 L527.4 282.0 L528.2 282.4 L529.0 281.7 L529.8 281.8 L530.0 282.3 L530.6 282.6 L531.4 282.9 L532.2 283.7 L533.0 283.4 L533.8 281.1 L534.6 281.1 L535.4 282.2 L536.2 282.5 L537.0 282.3 L537.8 282.0 L538.6 282.3 L539.4 282.5 L540.2 282.5 L541.0 283.2 L541.8 282.7 L542.6 282.7 L543.4 282.9 L544.2 282.5 L545.0 282.2 L545.8 280.8 L546.6 281.7 L547.4 280.9 L548.2 280.5 L549.0 281.7 L549.8 281.6 L550.6 281.7 L551.4 282.2 L552.2 281.3 L553.0 281.3 L553.8 281.5 L554.6 281.3 L555.4 280.5 L556.2 281.7 L557.0 282.6 L557.8 282.9 L558.6 282.3 L559.4 282.8 L560.2 281.7 L561.0 281.4 L561.8 281.5 L562.6 281.5 L563.4 281.6 L564.2 282.5 L565.0 283.2 L565.8 281.9 L566.6 280.5 L567.4 281.7 L568.2 279.9 L569.0 280.4 L569.8 280.5 L570.6 281.4 L571.4 282.0 L572.0 281.3 L572.2 281.3 L573.0 280.5 L573.8 278.9 L574.6 277.7 L575.4 276.7 L576.2 275.7 L577.0 274.0 L577.8 272.4 L578.6 271.6 L578.8 271.7 L579.4 272.9 L580.2 274.6 L581.0 276.0 L581.8 277.9 L582.6 279.7 L583.4 281.2 L583.6 281.5 L584.2 281.5 L585.0 281.4 L585.8 281.7 L586.6 282.0 L587.4 282.5 L588.2 282.4 L589.0 281.2 L589.8 280.9 L590.6 280.2 L591.4 280.6 L592.2 280.4 L593.0 280.3 L593.8 280.4 L594.6 281.8 L595.4 282.0 L596.2 281.4 L597.0 282.0 L597.8 281.6 L598.6 281.8 L599.4 281.3 L600.2 281.2 L601.0 279.7 L601.8 279.2 L602.6 280.2 L603.4 281.3 L604.2 282.4 L605.0 282.6 L605.8 282.8 L606.6 281.8 L607.4 281.9 L608.2 281.5 L609.0 281.2 L609.8 280.1 L610.6 281.0 L611.4 281.0 L612.2 281.0 L613.0 281.3 L613.8 281.5 L614.6 281.7 L615.4 281.6 L616.2 281.7 L617.0 281.9 L617.8 281.6 L618.6 281.4 L619.4 280.9 L620.2 280.5 L621.0 281.9 L621.8 281.4 L622.6 282.0 L623.4 282.5 L624.2 282.5 L625.0 282.1 L625.8 282.0 L626.6 281.8 L627.4 282.2 L628.2 282.1 L629.0 281.6 L629.8 281.8 L630.6 281.9 L631.4 282.1 L632.2 282.5 L633.0 282.2 L633.8 283.3 L634.6 281.4 L635.4 280.8 L636.2 281.0 L637.0 282.0 L637.8 282.9 L638.6 281.6 L639.4 281.1 L640.2 280.8 L641.0 281.4 L641.8 281.3 L642.6 281.4 L643.4 280.9 L644.2 281.6 L645.0 281.8 L645.8 282.3 L646.6 282.6 L647.4 282.7 L648.2 281.4 L649.0 281.4 L649.8 281.1 L650.6 280.7 L651.4 281.7 L652.2 281.0 L653.0 281.3 L653.8 280.9 L654.6 280.7 L655.4 281.7 L656.2 280.7 L657.0 281.2 L657.8 280.8 L658.6 281.0 L659.4 281.1 L660.2 281.4 L661.0 281.8 L661.8 282.0 L662.6 281.3 L663.4 280.2 L664.2 280.1 L665.0 280.2 L665.8 281.3 L666.6 281.3 L667.4 281.7 L668.2 281.6 L669.0 281.2 L669.8 281.0 L670.6 280.6 L671.4 279.8 L672.2 280.4 L673.0 281.1 L673.8 280.3 L674.6 281.2 L675.4 282.1 L676.2 281.1 L677.0 281.9 L677.8 281.6 L678.6 281.2 L679.4 281.4 L680.2 281.8 L681.0 280.7 L681.8 280.6 L682.6 279.9 L683.4 279.2 L684.2 280.2 L685.0 279.8 L685.8 280.5 L686.6 280.5 L687.4 282.3 L688.2 282.2 L689.0 280.3 L689.8 280.4 L690.6 280.2 L691.4 280.6 L692.2 280.2 L693.0 280.9 L693.8 280.6 L694.6 280.7 L695.4 279.7 L696.2 280.0 L697.0 280.3 L697.8 281.0 L698.6 281.7 L699.4 281.8 L700.2 281.4 L701.0 282.2 L701.8 282.7 L702.6 282.2 L703.4 282.4 L704.2 281.9 L705.0 281.8 L705.8 282.3 L706.6 282.3 L707.4 282.4 L708.2 281.5 L709.0 281.5 L709.8 282.3 L710.0 281.5 L710.6 281.5 L711.4 281.8 L712.2 281.1 L713.0 279.6 L713.8 279.1 L714.6 278.6 L715.4 278.5 L716.2 278.5 L717.0 278.5 L717.8 277.5 L718.6 277.1 L719.4 276.6 L720.2 276.6 L721.0 276.0 L721.8 275.5 L722.6 274.5 L723.4 273.9 L724.2 273.3 L725.0 272.2 L725.8 272.2 L726.6 272.1 L727.4 271.6 L728.2 270.7 L729.0 270.1 L729.8 269.1 L730.6 269.4 L731.4 269.0 L732.1 268.6 L732.2 268.3 L733.0 269.0 L733.8 269.3 L734.6 270.0 L735.4 270.3 L736.2 271.5 L737.0 272.1 L737.8 272.9 L738.6 273.0 L739.4 272.7 L740.2 273.0 L741.0 273.8 L741.8 274.4 L742.6 275.6 L743.4 276.5 L744.2 276.7 L745.0 277.7 L745.3 278.0 L745.8 278.4 L746.6 278.7 L747.4 278.4 L748.2 278.1 L749.0 278.3 L749.8 278.5 L750.6 278.4 L751.4 278.6 L752.2 278.8 L753.0 279.6 L753.8 280.7 L754.6 280.5 L754.7 279.5 L755.4 279.5 L756.2 278.1 L757.0 277.1 L757.8 276.7 L758.6 275.6 L759.4 274.7 L760.2 273.6 L761.0 273.3 L761.8 272.3 L762.6 271.4 L763.4 270.5 L764.2 269.4 L765.0 268.7 L765.8 268.2 L766.6 267.3 L767.4 266.4 L767.9 265.4 L768.2 267.0 L769.0 269.4 L769.8 271.1 L770.6 272.8 L771.4 274.9 L772.2 277.0 L773.0 279.4 L773.6 281.0 L773.8 281.1 L774.6 281.4 L775.4 281.1 L776.2 280.5 L777.0 280.8 L777.8 281.4 L778.6 280.4 L779.4 280.6 L780.2 280.4 L781.0 279.8 L781.8 279.8 L782.6 279.6 L783.4 279.4 L784.2 280.0 L785.0 279.8 L785.8 280.9 L786.6 281.1 L787.4 280.5 L788.2 280.4 L789.0 280.1 L789.8 280.5 L790.6 280.6 L791.4 281.1 L792.2 280.7 L793.0 279.5 L793.8 279.7 L794.6 279.1 L795.4 279.4 L796.2 280.4 L797.0 279.7 L797.8 279.7 L798.6 278.8 L798.7 279.5 L799.4 278.6 L800.2 277.8 L801.0 277.3 L801.8 277.2 L802.6 276.9 L803.4 276.4 L804.2 275.8 L805.0 275.2 L805.8 274.8 L806.6 274.4 L807.4 274.2 L808.2 273.3 L809.0 273.0 L809.8 272.7 L810.6 272.3 L811.3 271.7 L811.4 271.8 L812.2 271.6 L813.0 271.0 L813.8 270.4 L814.6 269.7 L815.4 269.5 L816.2 268.8 L817.0 268.2 L817.8 267.7 L818.6 266.7 L819.4 266.0 L820.2 265.8 L821.0 265.1 L821.8 264.8 L822.6 264.7 L823.4 264.6 L823.8 263.8 L824.2 264.2 L825.0 264.0 L825.8 264.2 L826.6 264.0 L827.4 263.8 L828.2 262.8 L829.0 262.4 L829.8 261.7 L830.6 261.6 L831.4 261.3 L831.7 261.3 L832.2 261.7 L833.0 262.3 L833.8 263.6 L834.6 263.9 L835.4 265.5 L836.2 266.8 L837.0 267.8 L837.8 267.9 L838.6 268.7 L839.4 269.6 L839.6 270.1 L840.2 270.2 L841.0 270.4 L841.8 271.4 L842.6 272.1 L843.4 273.2 L844.2 273.9 L845.0 274.5 L845.8 274.4 L846.6 274.8 L847.4 275.5 L848.2 275.8 L849.0 275.9 L849.8 275.9 L850.6 276.8 L851.4 277.6 L852.1 278.0 L852.2 278.2 L853.0 278.1 L853.8 278.5 L854.6 278.7 L855.4 278.9 L856.2 279.6 L857.0 278.6 L857.8 279.4 L858.6 278.7 L859.4 279.0 L860.2 279.3 L861.0 280.5 L861.8 281.4 L862.6 281.8 L863.4 281.0 L864.2 280.4 L865.0 281.6 L865.8 280.9 L866.6 281.4 L867.4 281.5 L868.2 282.1 L869.0 281.6 L869.8 281.0 L870.6 280.8 L871.4 280.6 L872.2 280.9 L873.0 280.8 L873.8 281.4 L874.0 282.0 L874.6 281.6 L875.4 282.6 L876.2 282.7 L877.0 282.8 L877.8 282.1 L878.6 282.8 L879.4 281.8 L880.2 281.9 L881.0 281.4 L881.8 282.7 L882.6 281.9 L883.4 282.3 L884.2 282.4 L885.0 281.8 L885.8 282.3 L886.6 281.2 L887.4 282.0 L888.2 281.1 L889.0 280.8 L889.8 281.2 L890.6 280.3 L891.4 279.7 L892.2 281.4 L893.0 281.7 L893.8 282.5 L894.6 282.8 L895.4 283.0 L896.2 281.7 L897.0 282.5 L897.8 282.9 L898.6 282.0 L899.4 281.9 L900.2 282.5 L901.0 282.4 L901.8 281.9 L902.6 280.9 L903.4 282.3 L904.2 281.6 L905.0 281.6 L905.8 281.5 L906.6 281.7 L907.4 282.6 L908.2 282.1 L909.0 281.9 L909.8 281.6 L910.6 282.2 L911.4 281.8 L912.2 281.9 L913.0 281.6 L913.8 281.3 L914.6 282.0 L915.4 282.4 L916.2 282.2 L917.0 282.1 L917.8 282.5 L918.6 282.6 L919.4 282.6 L920.2 282.6 L921.0 283.2 L921.8 282.3 L922.6 282.1 L923.4 280.9 L924.2 280.1 L925.0 279.3 L925.8 279.4 L926.6 281.5 L927.4 282.7 L928.2 282.4 L929.0 283.1 L929.8 283.6 L930.0 281.5 L930.6 282.2 L931.4 281.3 L932.2 279.4 L933.0 277.9 L933.8 277.4 L934.6 276.7 L935.4 276.3 L935.6 276.5 L936.2 276.3 L937.0 277.2 L937.8 277.9 L938.6 278.8 L939.4 279.9 L940.2 280.7 L941.0 281.5 L941.8 281.2 L942.6 280.8 L943.4 281.8 L944.2 281.7 L945.0 282.2 L945.8 283.0 L946.6 283.6 L947.4 283.5 L948.2 283.5 L949.0 281.9 L949.8 282.2 L950.6 282.3 L951.4 281.7 L952.2 281.0 L953.0 282.1 L953.8 281.4 L954.6 281.3 L955.4 281.6 L956.2 281.0 L957.0 280.8 L957.8 281.1 L958.6 281.0 L959.4 281.4 L960.2 280.5 L961.0 280.4 L961.8 281.0 L962.6 281.0 L963.4 282.0 L964.2 281.9 L965.0 282.3 L965.8 281.6 L966.6 281.2 L967.4 281.6 L968.2 281.3 L969.0 281.9 L969.8 281.7 L970.6 281.9 L971.4 282.5 L972.2 282.3 L973.0 281.9 L973.8 281.4 L974.6 281.1 L975.4 281.0 L976.2 281.5 L977.0 281.5 L977.8 281.1 L978.6 281.0 L979.4 281.6 L980.2 281.7 L981.0 282.0 L981.8 282.0 L982.6 282.3 L983.4 282.5 L984.2 281.9 L985.0 281.1 L985.8 280.2 L986.6 281.1 L987.4 281.8 L988.2 281.7 L989.0 282.2 L989.8 282.2 L990.6 281.5 L991.4 282.6 L992.2 282.3 L993.0 282.1 L993.8 282.8 L994.6 283.0 L995.4 284.1 L996.0 281.5" fill="none" stroke="#808000" stroke-width="4.8" stroke-linejoin="round" stroke-linecap="round"/>
<path d="M55.5 425.0 L56.3 426.2 L57.1 425.7 L57.9 424.1 L58.7 425.3 L59.5 425.2 L60.3 423.6 L61.1 423.8 L61.9 423.4 L62.7 422.0 L63.5 422.7 L63.7 422.9 L64.3 423.4 L65.1 424.4 L65.9 425.6 L66.7 425.7 L67.5 425.2 L68.3 425.1 L69.1 424.4 L69.2 425.0 L69.9 423.8 L70.7 423.2 L71.5 421.4 L72.3 417.7 L73.1 416.9 L73.4 417.4 L73.9 416.6 L74.7 420.9 L75.5 422.7 L76.3 422.1 L77.1 423.1 L77.5 424.3 L77.9 422.3 L78.7 422.1 L79.5 421.8 L80.3 423.4 L81.1 422.6 L81.9 421.4 L82.7 422.0 L83.5 422.7 L84.3 423.3 L85.1 422.0 L85.9 420.8 L86.7 418.8 L87.1 420.8 L87.5 419.3 L88.3 420.4 L89.1 421.6 L89.9 423.6 L90.7 424.7 L91.2 426.3 L91.5 424.6 L92.3 423.2 L93.1 422.2 L93.9 420.1 L94.7 418.0 L95.3 416.0 L95.5 416.7 L96.3 418.9 L97.1 420.2 L97.9 422.2 L98.7 422.9 L99.5 423.6 L100.3 424.6 L101.1 424.9 L101.9 425.5 L102.7 426.4 L103.5 427.1 L104.3 426.7 L105.0 426.3 L105.1 426.4 L105.9 425.0 L106.7 423.2 L107.5 422.3 L108.3 421.4 L109.1 420.9 L109.9 419.5 L110.4 418.1 L110.7 417.2 L111.5 416.1 L112.3 413.8 L113.1 412.3 L113.9 411.2 L114.7 400.4 L115.5 391.2 L115.9 385.1 L116.3 391.6 L117.1 399.3 L117.9 405.9 L118.3 411.2 L118.7 412.3 L119.5 418.6 L120.1 424.3 L120.3 423.6 L121.1 426.0 L121.9 425.9 L122.7 424.5 L123.5 424.3 L124.3 423.7 L125.1 424.3 L125.9 424.9 L126.7 425.2 L126.9 426.3 L127.5 424.7 L128.3 423.7 L129.1 423.7 L129.9 423.9 L130.7 423.4 L131.5 423.8 L132.3 423.1 L133.1 422.5 L133.9 422.2 L134.7 420.8 L135.5 420.1 L136.3 418.3 L136.5 419.5 L137.1 419.3 L137.9 420.0 L138.7 420.4 L139.5 421.4 L140.3 422.9 L141.1 423.8 L141.9 424.4 L142.7 424.9 L143.4 425.0 L143.5 425.0 L144.3 424.9 L145.1 424.2 L145.9 423.0 L146.7 421.4 L147.5 421.1 L148.3 418.9 L148.9 418.1 L149.1 419.4 L149.9 418.8 L150.7 418.2 L151.5 417.5 L152.3 417.8 L153.1 415.2 L153.9 415.4 L154.7 416.8 L155.5 416.3 L156.3 417.8 L157.1 418.5 L157.2 416.7 L157.9 419.5 L158.7 420.2 L159.5 421.8 L160.3 424.0 L161.1 424.7 L161.3 425.0 L161.9 424.3 L162.7 423.6 L163.5 422.0 L164.3 418.0 L165.1 415.3 L165.4 416.0 L165.9 415.9 L166.7 419.0 L167.5 421.5 L168.3 424.0 L169.1 426.6 L169.5 426.3 L169.9 426.7 L170.7 425.2 L171.5 423.3 L172.3 422.0 L173.1 418.9 L173.6 418.1 L173.9 418.7 L174.7 418.8 L175.5 419.3 L176.3 420.2 L177.1 422.0 L177.9 422.7 L178.7 424.2 L179.5 424.4 L180.3 425.5 L180.5 425.6 L181.1 424.5 L181.9 424.4 L182.7 423.5 L183.5 423.5 L184.3 422.8 L185.1 420.7 L185.9 420.6 L186.7 420.9 L187.5 421.4 L188.3 420.2 L188.8 418.8 L189.1 421.5 L189.9 420.7 L190.7 419.3 L191.5 419.3 L192.3 416.0 L193.1 418.3 L193.9 421.0 L194.7 422.6 L195.5 421.4 L196.3 420.6 L197.1 420.9 L197.9 419.7 L198.7 417.9 L199.5 416.3 L200.3 419.5 L201.1 419.6 L201.9 419.6 L202.7 420.2 L203.5 420.8 L204.3 423.3 L205.1 422.9 L205.9 418.1 L206.7 413.6 L207.5 414.3 L208.3 418.1 L209.1 417.6 L209.9 418.3 L210.7 415.4 L211.5 416.7 L212.3 417.5 L213.1 417.6 L213.9 422.4 L214.7 421.1 L215.5 422.9 L216.3 421.2 L217.1 420.0 L217.9 418.8 L218.7 423.9 L219.5 426.0 L220.3 420.2 L221.1 420.3 L221.9 420.5 L222.7 420.5 L223.5 420.3 L224.3 418.4 L225.1 416.9 L225.9 416.8 L226.7 416.6 L227.5 417.5 L228.3 418.9 L229.1 419.5 L229.9 421.9 L230.7 422.3 L231.5 420.3 L232.3 419.3 L233.1 424.2 L233.9 425.2 L234.7 423.4 L235.5 421.8 L236.3 422.4 L237.1 421.5 L237.9 420.5 L238.7 421.0 L239.5 422.7 L240.3 419.5 L241.1 419.1 L241.9 426.1 L242.7 425.8 L243.5 423.7 L244.3 423.4 L245.1 422.2 L245.9 420.0 L246.7 419.1 L247.5 418.2 L248.3 419.1 L249.1 419.1 L249.9 422.3 L250.7 422.6 L251.5 421.2 L252.3 419.4 L253.1 421.4 L253.9 420.5 L254.7 422.7 L255.5 424.5 L256.3 423.1 L257.1 425.4 L257.9 422.6 L258.7 423.5 L259.5 422.5 L260.3 424.5 L261.1 423.6 L261.9 423.8 L262.7 424.2 L263.5 421.7 L264.3 420.4 L265.1 423.2 L265.9 424.6 L266.7 424.4 L267.5 426.1 L268.3 426.1 L269.1 423.3 L269.9 423.1 L270.7 422.7 L271.5 422.4 L272.3 423.7 L273.1 422.5 L273.9 420.7 L274.7 422.2 L275.5 423.9 L276.3 424.2 L277.1 422.1 L277.9 422.0 L278.7 423.0 L279.5 423.5 L280.3 425.2 L281.1 423.2 L281.9 424.0 L282.7 422.0 L283.5 422.2 L284.3 422.3 L285.1 421.8 L285.9 421.3 L286.7 420.2 L287.5 423.4 L288.3 426.0 L289.1 427.5 L289.9 428.0 L290.7 426.6 L291.5 426.9 L292.3 424.7 L293.1 425.0 L293.9 424.6 L294.7 420.7 L295.5 419.6 L296.3 421.3 L297.1 422.3 L297.9 421.6 L298.7 424.4 L299.5 422.8 L300.0 424.0 L300.3 423.3 L301.1 420.9 L301.9 418.9 L302.7 416.8 L303.4 415.8 L303.5 413.7 L304.3 415.6 L305.1 417.7 L305.9 421.6 L306.7 423.4 L307.5 424.5 L307.6 424.7 L308.3 422.7 L309.1 419.9 L309.9 417.6 L310.3 417.2 L310.7 418.0 L311.5 419.0 L312.3 418.9 L313.1 419.3 L313.9 419.0 L314.7 418.5 L315.5 419.8 L315.8 421.3 L316.3 417.0 L317.1 414.3 L317.9 412.5 L318.5 410.3 L318.7 411.5 L319.5 407.7 L320.3 406.5 L321.1 404.7 L321.3 403.4 L321.9 398.7 L322.7 391.1 L323.5 389.0 L324.3 390.5 L325.1 393.3 L325.4 395.2 L325.9 391.3 L326.7 386.4 L327.5 381.4 L328.3 379.5 L329.1 378.8 L329.9 377.4 L330.2 375.9 L330.7 372.8 L331.5 367.1 L332.3 363.4 L333.0 356.7 L333.1 359.9 L333.9 355.9 L334.7 354.7 L335.5 353.8 L336.0 352.6 L336.3 347.5 L337.1 330.6 L337.9 325.9 L338.2 322.5 L338.7 331.7 L339.5 344.4 L339.6 344.3 L340.3 348.5 L341.1 351.7 L341.2 354.0 L341.9 354.3 L342.7 358.4 L343.3 362.2 L343.5 362.5 L344.3 370.5 L345.1 379.1 L345.3 381.4 L345.9 381.6 L346.7 380.6 L347.5 380.5 L348.3 384.4 L349.1 385.6 L349.5 384.2 L349.9 386.5 L350.7 389.4 L351.5 392.4 L352.3 393.5 L353.1 393.1 L353.9 394.4 L354.3 395.2 L354.7 396.0 L355.5 401.8 L356.3 405.7 L357.0 410.3 L357.1 410.6 L357.9 406.3 L358.7 402.1 L359.5 398.4 L359.8 399.3 L360.3 399.5 L361.1 401.8 L361.9 403.9 L362.7 406.9 L363.2 406.2 L363.5 409.4 L364.3 414.4 L365.1 418.6 L365.3 418.5 L365.9 421.0 L366.7 422.6 L367.5 424.2 L368.0 425.4 L368.3 424.3 L369.1 423.2 L369.9 421.6 L370.7 420.8 L371.5 418.4 L372.3 415.8 L372.8 415.8 L373.1 415.2 L373.9 417.1 L374.7 419.3 L375.5 422.7 L375.6 422.7 L376.3 422.3 L377.1 423.4 L377.9 422.7 L378.7 422.0 L379.5 421.6 L380.3 422.1 L381.1 422.0 L381.9 422.0 L382.4 421.3 L382.7 420.3 L383.5 421.5 L384.3 424.5 L385.1 423.9 L385.9 423.8 L386.7 424.2 L387.5 425.3 L387.9 425.4 L388.3 423.4 L389.1 417.4 L389.9 412.9 L390.7 407.5 L391.5 411.0 L392.3 413.6 L393.1 417.9 L393.4 419.9 L393.9 419.5 L394.7 420.8 L395.5 421.8 L396.2 425.4 L396.3 423.7 L397.1 423.2 L397.9 424.5 L398.7 424.1 L399.5 421.4 L400.3 421.0 L401.1 421.3 L401.9 420.8 L402.7 420.5 L403.5 419.5 L404.3 419.3 L404.4 419.9 L405.1 420.1 L405.9 420.9 L406.7 422.8 L407.5 422.4 L408.3 421.4 L409.1 423.0 L409.9 424.7 L410.7 426.5 L411.3 425.4 L411.5 425.3 L412.3 423.2 L413.1 420.1 L413.9 417.7 L414.7 415.5 L415.4 414.4 L415.5 413.6 L416.3 409.3 L417.1 403.8 L417.9 398.1 L418.1 399.3 L418.7 395.4 L419.5 391.4 L420.3 389.0 L421.1 385.1 L421.2 384.9 L421.9 388.3 L422.7 391.4 L423.5 397.1 L423.6 399.3 L424.3 403.0 L425.1 406.0 L425.9 409.9 L426.7 413.6 L427.1 416.5 L427.5 412.7 L428.3 407.7 L429.1 402.3 L429.8 397.9 L429.9 397.3 L430.7 394.7 L431.5 393.8 L432.3 393.4 L432.6 394.6 L433.1 389.7 L433.9 379.7 L434.6 369.8 L434.7 369.4 L435.5 365.1 L436.3 360.0 L437.1 356.7 L437.9 351.6 L438.1 350.6 L438.7 353.2 L439.5 355.5 L440.3 358.6 L440.8 361.6 L441.1 362.7 L441.9 373.1 L442.7 382.8 L443.5 387.7 L444.3 396.8 L445.1 402.2 L445.9 406.7 L446.3 411.1 L446.7 411.8 L447.5 414.4 L448.3 417.9 L449.1 420.5 L449.7 423.4 L449.9 421.7 L450.7 418.8 L451.5 416.1 L452.3 413.5 L452.5 412.4 L453.1 413.2 L453.9 412.6 L454.7 413.7 L455.5 414.3 L455.9 413.8 L456.3 412.6 L457.1 409.2 L457.9 406.7 L458.7 401.4 L459.5 399.5 L460.3 399.2 L461.1 400.2 L461.9 400.0 L462.1 398.7 L462.7 399.6 L463.5 396.5 L464.3 394.9 L465.1 392.0 L465.9 390.9 L466.2 389.1 L466.7 390.0 L467.5 387.8 L468.3 383.1 L469.1 380.7 L469.9 379.1 L470.3 378.8 L470.7 378.3 L471.5 380.3 L472.3 381.5 L473.1 383.1 L473.8 385.0 L473.9 383.5 L474.7 384.6 L475.5 385.8 L476.3 387.6 L476.5 387.7 L477.1 390.5 L477.9 395.6 L478.6 398.7 L478.7 397.5 L479.5 392.8 L480.3 389.1 L481.1 384.3 L481.9 391.6 L482.7 397.4 L483.4 401.4 L483.5 402.8 L484.3 402.1 L485.1 401.0 L485.9 400.4 L486.1 402.8 L486.7 403.7 L487.5 407.1 L488.2 413.8 L488.3 412.1 L489.1 412.0 L489.9 410.7 L490.7 409.0 L490.9 409.7 L491.5 407.8 L492.3 408.7 L493.1 409.4 L493.7 411.1 L493.9 411.8 L494.7 416.2 L495.5 421.4 L496.3 426.2 L496.4 424.8 L497.1 425.4 L497.9 424.2 L498.7 420.9 L499.5 420.0 L500.3 419.1 L501.1 418.3 L501.9 417.9 L502.7 418.6 L503.5 420.5 L504.3 421.4 L505.1 421.7 L505.9 422.8 L506.1 424.8 L506.7 422.5 L507.5 423.8 L508.3 422.5 L509.1 423.1 L509.9 422.7 L510.7 423.1 L511.5 421.6 L512.3 418.9 L513.1 419.6 L513.9 418.5 L514.7 418.5 L515.5 418.5 L515.7 419.3 L516.3 419.3 L517.1 420.6 L517.9 420.7 L518.7 421.1 L519.5 422.4 L520.3 423.8 L521.1 424.5 L521.2 424.8 L521.9 424.1 L522.7 424.1 L523.5 423.0 L524.3 421.2 L525.1 422.2 L525.9 422.8 L526.7 421.9 L527.5 422.0 L528.3 420.5 L529.1 420.2 L529.4 419.3 L529.9 420.7 L530.7 422.7 L531.5 421.4 L532.3 421.9 L533.1 421.9 L533.9 422.0 L534.7 423.2 L534.9 424.8 L535.5 422.9 L536.3 422.4 L537.1 423.5 L537.9 425.0 L538.7 423.7 L539.5 421.9 L540.3 421.0 L541.1 420.1 L541.9 417.7 L542.7 417.1 L543.1 419.3 L543.5 418.3 L544.3 420.0 L545.1 419.3 L545.9 419.3 L546.7 418.0 L547.5 418.3 L548.3 418.4 L549.1 418.3 L549.9 418.9 L550.7 419.0 L551.5 420.0 L552.3 420.0 L552.8 419.3 L553.1 419.7 L553.9 420.7 L554.7 422.0 L555.5 422.9 L556.3 422.7 L556.9 424.8 L557.1 422.5 L557.9 422.4 L558.7 422.9 L559.5 422.3 L560.3 420.2 L561.1 418.5 L561.9 418.4 L562.4 417.9 L562.7 417.7 L563.5 418.9 L564.3 419.6 L565.1 419.0 L565.9 418.1 L566.7 420.9 L567.5 418.8 L568.3 420.1 L569.1 421.4 L569.9 419.4 L570.7 418.6 L571.5 417.4 L572.3 415.2 L573.1 415.7 L573.9 419.4 L574.7 417.5 L575.5 419.0 L576.3 418.4 L577.1 418.3 L577.9 418.1 L578.7 414.2 L579.5 415.5 L580.3 418.4 L581.1 417.6 L581.9 417.6 L582.7 419.2 L583.5 418.5 L584.3 420.0 L585.1 420.7 L585.9 418.9 L586.7 419.0 L587.5 419.6 L588.3 422.0 L589.1 418.2 L589.9 414.5 L590.7 417.7 L591.5 420.0 L592.3 418.9 L593.1 418.3 L593.9 417.2 L594.7 419.0 L595.5 421.9 L596.3 422.7 L597.1 420.7 L597.9 420.9 L598.7 421.1 L599.5 417.2 L600.3 418.3 L601.1 419.2 L601.9 421.4 L602.7 421.6 L603.5 420.0 L604.3 420.4 L605.1 421.7 L605.9 423.3 L606.7 421.6 L607.5 420.0 L608.3 416.6 L609.1 420.5 L609.9 420.6 L610.7 418.0 L611.5 418.3 L612.3 418.9 L613.1 420.0 L613.9 416.5 L614.7 415.3 L615.5 412.4 L616.3 414.0 L617.1 416.3 L617.9 417.6 L618.7 419.7 L619.5 419.7 L620.3 419.0 L621.1 419.5 L621.9 420.8 L622.7 423.2 L623.5 421.5 L624.3 421.8 L625.1 422.2 L625.9 418.5 L626.7 417.5 L627.5 417.2 L628.3 416.4 L629.1 417.1 L629.9 416.9 L630.7 419.0 L631.5 420.2 L632.3 422.4 L633.1 421.2 L633.9 420.2 L634.7 423.4 L635.5 423.8 L636.3 424.9 L637.1 421.4 L637.9 419.2 L638.7 419.1 L639.5 418.6 L640.3 418.7 L641.1 420.8 L641.9 417.1 L642.7 417.5 L643.5 417.5 L644.3 420.1 L645.1 420.3 L645.9 422.4 L646.7 423.3 L647.5 419.5 L648.3 417.8 L649.1 418.6 L649.9 421.2 L650.7 423.6 L651.5 421.9 L652.3 413.4 L653.1 415.1 L653.9 417.5 L654.7 422.0 L655.5 424.8 L656.3 420.0 L657.1 420.5 L657.9 419.9 L658.7 416.2 L659.5 418.1 L660.3 416.3 L661.1 417.7 L661.9 419.7 L662.7 420.4 L663.5 420.2 L664.3 418.0 L665.1 419.0 L665.9 420.3 L666.7 421.5 L667.5 420.0 L668.3 420.6 L669.1 421.9 L669.9 421.7 L670.6 420.3 L670.7 420.0 L671.5 418.6 L672.3 419.4 L673.1 418.5 L673.9 417.9 L674.7 417.9 L675.5 416.9 L676.3 415.4 L677.0 414.0 L677.1 412.9 L677.9 413.0 L678.7 412.8 L679.5 412.0 L680.3 408.7 L681.1 409.3 L681.9 410.1 L682.7 408.1 L683.5 406.6 L683.6 407.4 L684.3 408.1 L685.1 409.7 L685.9 411.1 L686.7 411.9 L687.5 413.5 L688.0 414.0 L688.3 415.6 L689.1 418.5 L689.9 419.2 L690.7 416.8 L691.5 417.1 L692.3 419.3 L693.1 422.6 L693.9 423.4 L694.2 423.5 L694.7 420.5 L695.5 422.1 L696.3 425.2 L697.1 425.3 L697.9 425.1 L698.7 424.2 L699.5 423.6 L700.3 422.7 L701.1 422.0 L701.9 422.0 L702.7 423.2 L703.5 424.9 L704.3 424.7 L705.1 422.5 L705.9 423.9 L706.7 425.2 L707.5 425.2 L708.3 422.9 L709.1 425.4 L709.9 426.0 L710.7 421.4 L711.5 421.1 L712.3 424.0 L713.1 422.8 L713.9 421.7 L714.7 422.3 L715.5 420.3 L716.3 419.9 L717.1 420.5 L717.9 422.8 L718.7 421.5 L719.5 422.3 L720.3 421.1 L721.1 421.1 L721.9 421.7 L722.7 420.2 L723.5 421.5 L724.3 423.7 L725.1 424.1 L725.9 423.4 L726.7 423.0 L727.5 421.5 L728.3 420.7 L729.1 425.2 L729.9 424.9 L730.7 423.4 L731.5 424.4 L732.3 423.8 L733.1 421.5 L733.9 423.7 L734.7 424.8 L735.5 425.4 L736.3 424.6 L737.1 424.3 L737.9 420.8 L738.7 420.7 L739.5 422.0 L740.3 424.6 L741.1 421.3 L741.9 417.4 L742.7 419.8 L743.5 421.2 L744.3 424.1 L745.1 424.8 L745.9 421.8 L746.7 417.8 L747.5 418.9 L748.3 421.3 L749.1 420.6 L749.9 417.0 L750.7 419.0 L751.5 419.3 L752.3 418.8 L753.1 419.5 L753.9 421.8 L754.7 420.9 L755.4 420.3 L755.5 419.9 L756.3 419.0 L757.1 418.2 L757.9 417.2 L758.7 417.7 L759.5 417.7 L760.3 416.5 L761.0 415.0 L761.1 415.7 L761.9 414.4 L762.7 414.4 L763.5 415.1 L764.3 414.7 L765.1 415.0 L765.9 415.7 L766.0 413.3 L766.7 416.0 L767.5 414.3 L768.3 413.9 L769.1 415.8 L769.9 417.0 L770.7 416.4 L771.5 416.8 L772.0 417.5 L772.3 417.2 L773.1 416.9 L773.9 416.2 L774.7 417.7 L775.5 418.1 L776.3 418.2 L777.1 418.9 L777.9 420.3 L778.7 421.4 L779.5 422.0 L780.3 422.6 L781.1 421.5 L781.3 422.7 L781.9 420.1 L782.7 422.1 L783.5 420.7 L784.3 419.8 L785.1 420.1 L785.9 422.9 L786.7 419.6 L787.5 416.6 L788.3 419.0 L789.1 423.4 L789.9 422.6 L790.7 420.8 L791.5 421.3 L792.3 420.7 L793.1 420.1 L793.9 421.4 L794.7 422.1 L795.5 421.5 L796.3 421.7 L797.1 420.3 L797.9 414.6 L798.7 414.4 L799.5 420.4 L800.3 420.6 L801.1 421.4 L801.9 423.3 L802.7 423.5 L803.5 423.7 L804.3 421.5 L805.1 419.5 L805.9 419.4 L806.7 421.5 L807.5 422.1 L808.3 419.1 L809.1 416.8 L809.9 417.4 L810.7 417.5 L811.5 419.4 L812.3 423.3 L813.1 423.5 L813.9 423.0 L814.7 420.3 L815.5 420.1 L816.3 415.9 L817.1 416.8 L817.9 416.0 L818.7 416.4 L819.5 418.8 L820.3 420.2 L821.1 422.9 L821.9 423.7 L822.7 420.9 L823.5 421.4 L824.3 415.8 L825.1 413.4 L825.9 414.2 L826.7 418.3 L827.5 418.1 L828.3 415.3 L829.1 418.4 L829.9 416.5 L830.7 417.4 L831.5 415.4 L832.3 414.0 L833.1 418.1 L833.9 420.9 L834.7 417.9 L835.5 418.0 L836.3 415.9 L837.1 414.7 L837.9 413.0 L838.7 413.5 L839.0 414.0 L839.5 412.6 L840.3 412.5 L841.1 412.0 L841.9 410.7 L842.5 409.7 L842.7 408.7 L843.5 409.6 L844.3 411.4 L845.1 411.0 L845.9 413.0 L846.0 414.0 L846.7 413.3 L847.5 414.3 L848.3 414.9 L849.1 416.4 L849.9 416.1 L850.7 416.9 L851.5 418.6 L852.0 419.0 L852.3 421.1 L853.1 418.5 L853.9 417.8 L854.7 415.4 L855.5 416.5 L856.3 418.2 L857.1 417.6 L857.9 420.3 L858.7 425.4 L859.5 424.8 L860.3 420.5 L861.1 418.8 L861.9 410.8 L862.7 415.5 L863.5 420.4 L864.3 423.1 L865.1 422.3 L865.9 418.8 L866.7 418.1 L867.5 419.2 L868.3 420.4 L869.1 419.8 L869.9 419.9 L870.7 412.9 L871.5 415.0 L872.3 418.1 L873.1 419.1 L873.9 420.0 L874.7 419.6 L875.5 420.3 L876.3 420.5 L877.1 422.6 L877.9 423.8 L878.7 423.0 L879.5 423.3 L880.3 423.0 L881.1 422.1 L881.9 421.9 L882.7 421.8 L883.5 421.7 L884.3 421.9 L885.1 422.1 L885.9 421.5 L886.7 421.2 L887.5 422.3 L888.3 419.5 L889.1 419.8 L889.9 421.7 L890.7 423.2 L891.5 425.1 L892.3 423.5 L893.1 421.3 L893.9 423.3 L894.7 422.9 L895.5 423.3 L896.3 421.5 L897.1 418.5 L897.9 414.0 L898.7 415.1 L899.5 416.9 L900.3 419.7 L901.1 421.7 L901.9 422.2 L902.7 420.7 L903.5 422.8 L904.3 422.2 L905.1 423.6 L905.9 423.4 L906.7 423.2 L907.5 423.4 L908.3 426.0 L909.1 424.0 L909.9 420.4 L910.7 421.7 L911.5 421.1 L912.3 421.8 L913.1 422.2 L913.9 423.1 L914.7 421.8 L915.5 419.2 L916.3 418.8 L917.1 424.4 L917.9 427.5 L918.7 425.4 L919.5 418.3 L920.3 415.0 L921.1 417.1 L921.9 418.2 L922.7 421.4 L923.5 421.8 L924.3 420.8 L925.1 419.6 L925.9 418.6 L926.7 420.9 L927.5 421.7 L928.3 422.6 L929.1 420.3 L929.9 418.7 L930.7 418.2 L931.5 421.3 L932.3 421.8 L933.1 422.9 L933.9 423.6 L934.7 421.3 L935.5 419.6 L936.3 420.3 L937.1 418.8 L937.9 416.8 L938.7 415.4 L939.5 416.9 L940.3 423.8 L941.1 422.8 L941.9 422.0 L942.7 419.8 L943.5 419.8 L944.3 421.3 L945.1 421.0 L945.9 419.4 L946.7 417.7 L947.5 420.1 L948.3 423.4 L949.1 420.8 L949.9 419.9 L950.7 418.0 L951.5 421.1 L952.3 420.2 L953.1 421.1 L953.9 422.5 L954.7 424.3 L955.5 424.6 L956.3 423.9 L957.1 423.5 L957.9 421.2 L958.7 416.5 L959.5 415.4 L960.3 420.0 L961.1 424.2 L961.9 421.5 L962.7 422.5 L963.5 424.0 L964.3 423.4 L965.1 424.4 L965.9 424.9 L966.7 422.2 L967.5 422.6 L968.3 420.5 L969.1 422.6 L969.9 423.1 L970.7 422.2 L971.5 423.2 L972.3 420.6 L973.1 420.2 L973.9 421.2 L974.7 425.9 L975.5 425.7 L976.3 425.3 L977.1 423.9 L977.9 421.3 L978.7 420.4 L979.5 418.9 L980.3 423.9 L981.1 422.6 L981.9 422.2 L982.7 425.8 L983.5 427.5 L984.3 426.4 L985.1 427.7 L985.9 426.5 L986.7 425.3 L987.5 422.5 L988.3 421.9 L989.1 422.3 L989.9 422.4 L990.7 423.7 L991.5 422.7 L992.3 422.0 L993.1 420.5 L993.9 420.0 L994.7 416.8 L995.5 418.7 L996.0 423.0" fill="none" stroke="#FF00FF" stroke-width="4.8" stroke-linejoin="round" stroke-linecap="round"/>
<path d="M57.0 561.5 L57.8 561.9 L58.6 562.0 L59.4 562.5 L60.2 562.2 L61.0 562.4 L61.8 563.2 L62.6 563.1 L63.4 562.0 L63.7 563.0 L64.2 562.5 L65.0 563.5 L65.8 562.6 L66.6 561.7 L67.4 561.8 L67.5 561.0 L68.2 560.8 L69.0 559.5 L69.8 558.4 L70.6 557.4 L71.4 558.4 L72.2 559.9 L73.0 562.1 L73.8 563.2 L74.6 562.8 L74.7 563.0 L75.4 562.3 L76.2 562.6 L77.0 563.0 L77.8 563.6 L78.6 563.8 L79.4 563.4 L80.2 564.1 L81.0 562.9 L81.8 563.2 L82.6 563.6 L83.4 563.0 L84.2 562.4 L84.3 563.0 L85.0 561.5 L85.8 561.4 L86.6 561.7 L87.4 561.9 L88.2 561.6 L89.0 561.3 L89.8 561.2 L90.6 562.5 L91.4 562.6 L92.2 561.5 L93.0 561.7 L93.8 562.0 L94.6 562.3 L95.3 561.5 L95.4 562.9 L96.2 563.2 L97.0 562.5 L97.8 562.6 L98.6 563.0 L99.4 564.3 L100.2 564.1 L101.0 563.6 L101.8 564.4 L102.6 563.9 L103.4 564.8 L104.2 566.3 L104.3 566.3 L105.0 565.5 L105.8 564.2 L106.6 563.6 L107.4 563.1 L108.2 562.4 L109.0 560.8 L109.8 560.4 L110.4 560.1 L110.6 558.6 L111.4 555.8 L112.2 553.0 L113.0 549.6 L113.2 548.5 L113.8 545.8 L114.6 541.7 L115.4 537.8 L115.9 535.4 L116.2 536.7 L117.0 541.6 L117.8 546.3 L118.6 550.4 L118.7 549.8 L119.4 554.2 L120.2 558.0 L121.0 562.0 L121.4 563.6 L121.8 562.7 L122.6 563.5 L123.4 564.1 L124.2 564.5 L125.0 564.9 L125.8 563.9 L126.6 563.6 L127.4 563.7 L128.2 564.6 L129.0 564.1 L129.8 563.6 L130.6 564.8 L131.4 564.7 L132.2 565.2 L132.4 564.3 L133.0 565.0 L133.8 563.4 L134.6 562.7 L135.4 561.9 L136.2 561.3 L137.0 561.1 L137.8 561.9 L138.6 560.4 L139.3 560.1 L139.4 560.0 L140.2 561.6 L141.0 562.5 L141.8 563.0 L142.6 564.1 L143.4 565.0 L144.2 565.8 L145.0 567.1 L145.8 566.2 L146.6 565.5 L147.4 565.3 L148.2 565.0 L149.0 565.5 L149.8 566.7 L150.6 567.5 L151.4 566.6 L151.7 566.3 L152.2 565.3 L153.0 564.7 L153.8 564.1 L154.6 563.3 L155.4 563.2 L155.8 563.0 L156.2 563.4 L157.0 564.5 L157.8 565.1 L158.6 565.7 L159.4 566.8 L159.9 566.3 L160.2 565.5 L161.0 565.8 L161.8 565.9 L162.6 566.1 L163.4 566.1 L164.2 567.1 L165.0 567.3 L165.8 566.6 L166.6 565.3 L167.4 565.7 L168.2 566.0 L169.0 565.6 L169.8 565.4 L170.6 565.6 L171.4 565.9 L172.2 565.4 L173.0 564.9 L173.6 565.0 L173.8 564.4 L174.6 565.9 L175.4 566.2 L176.2 564.9 L177.0 565.0 L177.8 566.3 L178.6 566.1 L179.4 566.3 L180.2 565.9 L180.5 566.3 L181.0 565.7 L181.8 565.3 L182.6 565.4 L183.4 565.4 L184.2 565.1 L185.0 565.3 L185.8 564.7 L186.6 565.4 L187.4 565.1 L188.2 565.1 L189.0 565.0 L189.8 565.4 L190.0 565.6 L190.6 565.9 L191.4 566.8 L192.2 567.6 L193.0 568.4 L193.8 567.8 L194.6 567.9 L195.4 567.3 L196.2 566.8 L197.0 565.2 L197.8 567.7 L198.6 568.4 L199.4 568.0 L200.2 567.6 L201.0 566.7 L201.8 567.4 L202.6 567.0 L203.4 567.4 L204.2 564.7 L205.0 562.8 L205.8 564.3 L206.6 566.0 L207.4 563.9 L208.2 564.4 L209.0 565.4 L209.8 565.8 L210.6 565.0 L211.4 564.5 L212.2 563.5 L213.0 562.5 L213.8 563.6 L214.6 564.9 L215.4 565.2 L216.2 564.8 L217.0 563.9 L217.8 565.1 L218.6 566.5 L219.4 566.2 L220.2 566.5 L221.0 565.9 L221.8 565.8 L222.6 565.2 L223.4 565.0 L224.2 565.6 L225.0 566.6 L225.8 565.9 L226.5 564.5 L226.6 563.4 L227.4 560.9 L228.2 558.2 L229.0 556.4 L229.4 555.6 L229.8 556.8 L230.6 555.0 L231.4 553.6 L232.2 550.8 L233.0 548.8 L233.4 548.7 L233.8 542.2 L234.6 530.8 L234.8 529.0 L235.4 519.3 L236.2 508.4 L236.5 505.0 L237.0 510.1 L237.8 518.7 L238.6 527.6 L238.8 529.0 L239.4 538.6 L240.2 548.7 L241.0 551.2 L241.8 553.0 L242.6 554.6 L243.4 555.4 L244.2 558.5 L245.0 560.4 L245.8 563.3 L246.6 565.1 L247.1 566.4 L247.4 566.2 L248.2 566.5 L249.0 566.5 L249.8 566.0 L250.6 566.0 L251.4 565.9 L252.2 565.0 L253.0 566.6 L253.8 566.7 L254.6 565.6 L255.0 566.0 L255.4 566.2 L256.2 566.3 L257.0 566.6 L257.8 566.8 L258.6 567.4 L259.4 566.7 L260.2 566.2 L261.0 565.7 L261.8 564.5 L262.0 565.5 L262.6 563.6 L263.4 561.7 L264.2 560.3 L265.0 558.7 L265.8 558.5 L266.6 560.7 L267.4 563.0 L268.2 565.9 L268.7 567.0 L269.0 566.8 L269.8 566.5 L270.6 565.4 L271.4 565.0 L272.2 564.3 L273.0 563.6 L273.1 564.4 L273.8 562.6 L274.6 562.4 L275.4 561.9 L276.2 559.9 L277.0 557.9 L277.5 558.0 L277.8 557.1 L278.6 555.2 L279.4 553.5 L280.2 551.5 L280.3 550.7 L281.0 553.5 L281.8 556.5 L282.6 559.8 L283.4 561.5 L284.2 563.4 L285.0 565.9 L285.4 567.3 L285.8 567.9 L286.6 568.8 L287.4 566.7 L288.2 565.5 L289.0 565.9 L289.8 565.2 L290.6 564.8 L291.4 563.3 L292.2 563.8 L293.0 566.0 L293.2 564.4 L293.8 566.6 L294.6 565.4 L295.4 566.0 L296.2 565.5 L297.0 565.7 L297.8 564.6 L298.6 565.5 L299.4 565.8 L300.2 565.8 L301.0 567.0 L301.8 566.4 L302.6 566.8 L303.4 566.6 L304.2 566.1 L305.0 565.0 L305.1 565.0 L305.8 562.7 L306.6 561.8 L307.4 561.5 L308.2 559.8 L309.0 556.9 L309.8 555.8 L309.9 555.3 L310.6 557.8 L311.4 559.6 L312.0 560.8 L312.2 560.9 L313.0 561.3 L313.8 561.7 L314.6 562.4 L315.4 561.9 L316.2 562.5 L317.0 561.7 L317.5 561.5 L317.8 561.6 L318.6 562.1 L319.4 562.7 L320.2 563.6 L321.0 564.4 L321.8 563.7 L322.3 565.0 L322.6 562.5 L323.4 559.9 L324.2 557.4 L324.3 556.7 L325.0 558.5 L325.8 558.7 L326.6 560.5 L327.4 562.2 L327.8 563.5 L328.2 559.7 L329.0 555.6 L329.8 552.3 L330.6 548.0 L331.2 544.3 L331.4 542.8 L332.2 532.5 L333.0 521.5 L333.8 511.0 L334.0 507.2 L334.6 500.4 L335.4 489.9 L336.2 478.0 L337.0 474.3 L337.4 471.5 L337.8 473.7 L338.6 477.9 L338.7 478.0 L339.4 493.8 L340.1 507.2 L340.2 509.8 L341.0 519.0 L341.8 528.8 L342.6 540.5 L342.9 544.3 L343.4 548.3 L344.2 553.9 L345.0 559.2 L345.8 564.5 L346.3 567.7 L346.6 566.9 L347.4 565.1 L348.2 564.0 L349.0 561.6 L349.8 560.3 L350.6 559.8 L351.4 558.5 L351.8 556.7 L352.2 558.4 L353.0 559.9 L353.8 561.4 L354.6 563.5 L355.4 565.7 L355.9 567.0 L356.2 564.8 L357.0 558.3 L357.8 552.0 L358.0 549.8 L358.6 550.3 L359.4 551.6 L360.2 553.6 L361.0 555.7 L361.4 556.7 L361.8 557.8 L362.6 558.6 L363.4 559.9 L364.2 560.9 L364.9 563.5 L365.0 563.4 L365.8 563.3 L366.6 563.1 L367.4 562.4 L368.2 561.5 L369.0 562.8 L369.8 563.3 L370.6 562.1 L371.4 561.9 L372.2 561.1 L372.4 561.5 L373.0 558.7 L373.8 557.7 L374.6 555.6 L375.4 554.8 L376.2 553.5 L377.0 552.7 L377.8 551.3 L378.6 550.5 L379.4 551.7 L380.2 553.0 L381.0 554.4 L381.8 555.5 L382.6 556.4 L383.4 558.4 L384.2 559.9 L384.8 559.4 L385.0 560.0 L385.8 561.5 L386.6 562.9 L387.4 563.7 L388.2 565.0 L389.0 563.5 L389.8 561.7 L390.6 560.9 L391.4 559.9 L392.2 559.2 L392.3 558.7 L393.0 559.4 L393.8 561.3 L394.6 562.5 L395.4 562.5 L396.2 561.4 L397.0 562.0 L397.8 563.2 L398.5 563.5 L398.6 563.9 L399.4 563.0 L400.2 560.9 L401.0 561.1 L401.8 561.1 L402.6 561.4 L403.4 562.2 L404.2 562.3 L404.7 560.8 L405.0 562.2 L405.8 563.2 L406.6 564.4 L407.4 565.0 L408.1 567.7 L408.2 566.2 L409.0 563.1 L409.8 561.9 L410.6 559.6 L411.4 557.3 L412.2 555.3 L412.3 556.7 L413.0 545.5 L413.8 535.4 L414.6 525.4 L415.4 513.7 L415.7 510.0 L416.2 503.3 L417.0 494.3 L417.8 484.6 L418.5 476.0 L418.6 475.3 L419.4 471.8 L419.8 470.1 L420.2 471.7 L421.0 474.6 L421.4 475.6 L421.8 486.2 L422.6 507.0 L422.7 510.0 L423.4 517.5 L424.2 527.9 L424.8 536.1 L425.0 536.3 L425.8 536.0 L426.6 534.3 L427.4 532.9 L428.2 531.9 L429.0 530.2 L429.8 529.2 L430.6 528.9 L431.4 528.8 L432.2 527.2 L433.0 526.4 L433.8 519.4 L434.6 512.2 L435.4 505.6 L435.8 503.1 L436.2 500.7 L437.0 496.5 L437.8 490.4 L438.5 487.3 L438.6 485.9 L439.4 487.7 L440.2 489.5 L441.0 491.6 L441.3 489.3 L441.8 495.7 L442.6 503.4 L443.4 512.7 L444.2 519.0 L445.0 526.2 L445.8 534.9 L446.6 542.8 L447.4 549.1 L447.5 549.8 L448.2 547.6 L449.0 545.3 L449.8 545.3 L450.6 542.5 L450.9 541.5 L451.4 540.9 L452.2 539.0 L453.0 538.3 L453.8 538.3 L454.6 535.7 L455.0 534.7 L455.4 536.7 L456.2 538.5 L457.0 540.0 L457.8 541.8 L458.5 544.3 L458.6 544.4 L459.4 547.0 L460.2 549.0 L461.0 550.7 L461.2 550.5 L461.8 551.3 L462.6 551.3 L463.4 550.8 L464.0 551.2 L464.2 549.8 L465.0 548.8 L465.8 547.3 L466.6 546.7 L467.4 546.0 L468.2 546.7 L468.8 544.3 L469.0 544.2 L469.8 538.9 L470.6 533.5 L471.4 529.3 L471.9 527.1 L472.2 528.4 L473.0 532.0 L473.8 534.7 L474.6 536.1 L475.0 536.1 L475.4 536.6 L476.2 535.5 L477.0 537.3 L477.8 539.3 L478.6 539.4 L479.1 538.8 L479.4 541.2 L480.2 545.2 L481.0 549.2 L481.1 549.8 L481.8 549.2 L482.6 550.8 L483.4 552.7 L484.2 553.1 L484.6 553.9 L485.0 554.5 L485.8 556.5 L486.6 558.6 L487.4 559.5 L488.2 561.5 L489.0 562.7 L489.8 564.0 L490.1 564.9 L490.6 564.9 L491.4 564.0 L492.2 563.8 L493.0 564.1 L493.8 562.8 L494.6 562.6 L495.4 563.8 L496.2 563.8 L496.9 563.5 L497.0 564.2 L497.8 565.0 L498.6 565.3 L499.4 564.1 L500.2 561.6 L501.0 562.2 L501.8 563.8 L502.4 563.5 L502.6 564.6 L503.4 563.8 L504.2 561.8 L505.0 561.2 L505.8 561.9 L506.6 563.0 L507.4 562.5 L508.2 561.9 L509.0 561.7 L509.8 562.3 L510.6 562.5 L511.4 562.2 L512.2 562.5 L513.0 563.0 L513.8 562.7 L514.6 563.2 L515.4 562.3 L516.2 560.8 L517.0 560.1 L517.8 561.3 L518.6 562.5 L519.4 562.5 L520.2 562.7 L521.0 562.5 L521.8 562.8 L522.6 563.2 L523.4 563.2 L524.2 563.7 L524.4 563.5 L525.0 564.4 L525.8 564.9 L526.6 565.2 L527.4 565.2 L528.2 565.4 L529.0 564.5 L529.8 564.6 L530.6 564.7 L531.4 564.4 L532.2 564.7 L533.0 565.7 L533.8 566.0 L534.6 566.0 L535.4 566.3 L536.2 565.2 L537.0 565.1 L537.8 566.6 L538.6 567.4 L539.4 566.3 L540.2 565.6 L541.0 565.7 L541.8 565.3 L542.6 564.7 L543.4 565.0 L544.2 567.6 L545.0 567.1 L545.8 565.7 L546.6 563.7 L547.4 563.2 L547.8 564.9 L548.2 564.5 L549.0 564.9 L549.8 565.5 L550.6 565.3 L551.4 566.1 L552.2 566.1 L553.0 565.6 L553.8 565.4 L554.6 565.0 L555.0 564.0 L555.4 565.0 L556.2 562.1 L557.0 560.8 L557.8 559.7 L558.6 558.0 L559.2 557.4 L559.4 558.2 L560.2 559.4 L561.0 560.4 L561.8 561.6 L562.6 562.5 L563.0 564.0 L563.4 562.2 L564.2 564.5 L565.0 565.1 L565.8 563.8 L566.6 564.9 L567.4 566.1 L568.2 564.6 L569.0 564.5 L569.8 564.0 L570.6 560.7 L571.4 563.7 L572.2 564.2 L573.0 564.6 L573.8 564.8 L574.6 565.0 L575.4 562.2 L576.2 561.8 L577.0 560.5 L577.8 561.7 L578.6 562.6 L579.4 563.1 L580.2 564.0 L581.0 563.8 L581.8 564.3 L582.6 563.3 L583.4 563.5 L584.2 564.7 L585.0 565.2 L585.8 563.8 L586.6 564.4 L587.4 562.5 L588.2 562.1 L589.0 563.6 L589.8 564.2 L590.6 565.6 L591.4 564.9 L592.2 563.0 L593.0 562.9 L593.8 563.9 L594.6 564.4 L595.4 564.2 L596.2 565.3 L597.0 564.4 L597.8 564.8 L598.6 564.4 L599.4 564.0 L600.2 562.4 L601.0 560.2 L601.8 562.9 L602.6 563.3 L603.4 564.6 L604.2 562.9 L605.0 562.6 L605.8 564.2 L606.6 562.6 L607.4 561.6 L608.2 562.4 L609.0 561.4 L609.8 563.6 L610.6 564.6 L611.4 563.0 L612.2 562.4 L613.0 563.5 L613.8 561.6 L614.6 563.7 L615.4 563.8 L616.2 565.6 L617.0 563.4 L617.8 562.6 L618.6 566.1 L619.4 566.7 L620.2 564.5 L621.0 563.9 L621.8 564.1 L622.6 563.9 L623.4 564.9 L624.2 566.6 L625.0 567.0 L625.8 564.0 L626.6 565.1 L627.4 564.8 L628.2 563.5 L629.0 564.4 L629.8 564.2 L630.6 564.9 L631.4 563.2 L632.2 563.9 L633.0 564.1 L633.8 563.7 L634.6 563.8 L635.4 564.3 L636.2 562.5 L637.0 563.1 L637.8 562.5 L638.6 563.1 L639.4 565.0 L640.2 565.2 L641.0 564.4 L641.8 562.3 L642.6 562.9 L643.4 564.2 L644.2 564.8 L645.0 564.3 L645.8 563.9 L646.6 563.3 L647.4 564.7 L648.2 565.6 L649.0 565.5 L649.8 563.5 L650.6 562.9 L651.4 564.4 L652.2 565.0 L653.0 565.5 L653.8 563.5 L654.6 562.5 L655.4 562.7 L656.2 564.0 L657.0 562.3 L657.8 559.3 L658.6 562.4 L659.4 562.9 L660.2 562.3 L661.0 564.4 L661.8 564.3 L662.6 562.9 L663.4 563.4 L664.2 562.8 L665.0 562.6 L665.8 562.0 L666.6 559.6 L667.4 560.7 L668.2 564.2 L669.0 565.4 L669.8 564.6 L670.6 562.2 L671.4 563.8 L672.2 564.3 L673.0 564.5 L673.8 563.8 L674.6 563.6 L675.0 563.5 L675.4 562.5 L676.2 560.3 L677.0 558.2 L677.8 557.6 L678.0 556.0 L678.6 554.4 L679.4 550.4 L680.2 546.2 L680.7 544.2 L681.0 545.1 L681.8 547.8 L682.6 550.9 L683.4 552.1 L683.5 553.0 L684.2 554.2 L685.0 556.0 L685.8 557.5 L686.6 558.6 L687.4 560.4 L688.2 561.7 L688.4 562.1 L689.0 562.5 L689.8 563.8 L690.6 563.2 L691.4 563.3 L692.2 561.8 L693.0 559.2 L693.8 557.7 L694.6 559.1 L695.4 561.4 L696.2 561.4 L697.0 560.5 L697.8 563.0 L698.6 564.6 L699.4 563.7 L700.2 563.2 L701.0 563.4 L701.8 564.4 L702.6 565.4 L703.4 566.1 L704.2 566.3 L705.0 565.3 L705.8 563.1 L706.6 562.3 L707.4 561.8 L708.2 562.9 L709.0 562.9 L709.8 561.1 L710.6 561.2 L711.4 561.1 L712.2 562.4 L713.0 562.0 L713.8 563.2 L714.6 563.8 L715.4 563.8 L716.2 563.6 L717.0 566.7 L717.8 566.1 L718.6 565.7 L719.4 565.6 L720.2 565.4 L721.0 566.9 L721.8 562.5 L722.6 561.8 L723.4 562.9 L724.2 562.9 L725.0 564.6 L725.8 565.3 L726.6 565.0 L727.4 563.3 L728.2 564.1 L729.0 564.9 L729.8 565.0 L730.6 564.8 L731.0 563.5 L731.4 562.9 L732.2 560.0 L733.0 558.1 L733.2 558.0 L733.8 557.1 L734.6 554.8 L735.1 553.9 L735.4 554.1 L736.2 556.4 L737.0 557.7 L737.2 558.0 L737.8 559.6 L738.6 561.3 L739.2 563.5 L739.4 565.3 L740.2 566.2 L741.0 563.5 L741.8 561.3 L742.6 563.2 L743.4 565.3 L744.2 566.9 L745.0 566.0 L745.8 564.0 L746.6 563.3 L747.4 563.7 L748.2 564.0 L749.0 563.1 L749.8 564.8 L750.6 563.7 L751.4 562.6 L752.2 560.9 L753.0 561.5 L753.8 563.7 L754.6 563.9 L755.4 563.6 L756.2 563.8 L757.0 564.1 L757.8 563.8 L758.6 564.3 L759.4 563.2 L760.2 565.9 L761.0 563.8 L761.8 563.7 L762.6 561.8 L763.4 565.1 L764.2 565.0 L765.0 565.2 L765.8 566.3 L766.6 563.9 L767.4 561.7 L768.2 562.6 L769.0 563.6 L769.8 564.4 L770.6 563.2 L771.4 563.5 L772.2 564.3 L773.0 564.5 L773.8 564.2 L774.6 563.9 L775.4 562.7 L776.2 562.0 L777.0 563.6 L777.8 563.5 L778.6 563.8 L779.4 563.6 L780.2 563.0 L781.0 562.9 L781.8 564.1 L782.6 563.3 L783.4 564.9 L784.2 562.9 L785.0 561.9 L785.8 563.0 L786.6 562.3 L787.4 560.8 L788.2 564.6 L789.0 563.7 L789.8 561.9 L790.6 561.3 L791.4 561.7 L792.2 562.6 L793.0 561.3 L793.8 564.2 L794.6 563.3 L795.4 562.6 L796.2 562.6 L797.0 562.9 L797.8 563.3 L798.0 563.5 L798.6 562.9 L799.4 561.6 L800.2 559.9 L801.0 558.0 L801.8 556.3 L802.6 554.9 L803.3 554.7 L803.4 555.3 L804.2 556.9 L805.0 557.0 L805.8 557.3 L806.6 558.7 L807.4 560.4 L808.0 560.7 L808.2 562.2 L809.0 563.0 L809.8 563.3 L810.6 563.5 L811.4 563.6 L812.0 563.5 L812.2 563.7 L813.0 561.8 L813.8 562.5 L814.6 565.1 L815.4 562.1 L816.2 562.2 L817.0 563.1 L817.8 563.1 L818.6 565.6 L819.4 565.7 L820.2 563.1 L821.0 564.3 L821.8 562.6 L822.6 561.0 L823.4 562.7 L824.2 564.8 L825.0 564.0 L825.8 563.9 L826.6 564.7 L827.4 563.7 L828.2 562.0 L829.0 562.0 L829.8 564.8 L830.6 565.6 L831.4 564.7 L832.2 565.4 L833.0 566.2 L833.8 564.4 L834.6 562.2 L835.4 563.8 L836.2 565.6 L837.0 568.2 L837.8 567.1 L838.6 566.0 L839.4 565.2 L840.2 564.9 L841.0 563.5 L841.8 562.4 L842.6 561.5 L843.4 560.6 L844.2 560.9 L845.0 562.0 L845.8 563.6 L846.6 563.0 L847.4 560.7 L848.2 561.4 L849.0 561.1 L849.8 563.5 L850.6 562.6 L851.4 562.1 L852.2 559.8 L853.0 560.3 L853.8 561.7 L854.6 561.7 L855.4 562.9 L856.2 561.8 L857.0 561.6 L857.8 563.1 L858.6 564.7 L859.4 564.4 L860.2 563.5 L861.0 562.6 L861.8 562.4 L862.6 563.5 L863.4 564.1 L864.2 565.6 L865.0 565.1 L865.8 563.3 L866.6 563.1 L867.4 564.1 L868.2 561.7 L869.0 561.4 L869.8 562.6 L870.6 565.9 L871.4 565.2 L872.2 563.6 L873.0 563.8 L873.8 563.9 L874.6 560.6 L875.4 559.8 L876.2 560.7 L877.0 562.0 L877.8 562.6 L878.6 564.8 L879.4 564.5 L880.2 564.4 L881.0 562.0 L881.8 560.3 L882.6 564.4 L883.4 566.5 L884.2 566.7 L885.0 566.5 L885.8 565.4 L886.6 562.9 L887.4 563.4 L888.2 564.2 L889.0 564.6 L889.8 565.3 L890.6 561.7 L891.4 561.3 L892.2 561.3 L893.0 564.1 L893.8 563.6 L894.6 563.7 L895.4 565.1 L896.2 564.0 L897.0 564.1 L897.8 563.7 L898.6 561.1 L899.4 562.5 L900.2 563.2 L901.0 563.4 L901.8 562.8 L902.6 562.0 L903.4 562.8 L904.2 563.0 L905.0 561.5 L905.8 559.9 L906.6 560.3 L907.4 563.0 L908.2 564.0 L909.0 563.6 L909.8 564.7 L910.6 565.5 L911.4 564.0 L912.2 564.0 L913.0 563.9 L913.8 562.5 L914.6 562.8 L915.4 563.7 L916.2 561.7 L917.0 562.2 L917.8 561.8 L918.6 562.7 L919.4 562.6 L920.2 563.8 L921.0 565.0 L921.8 566.1 L922.6 563.8 L923.4 561.2 L924.2 562.4 L925.0 563.9 L925.8 564.4 L926.6 562.9 L927.4 562.5 L928.2 561.7 L929.0 562.7 L929.8 564.2 L930.6 563.9 L931.4 564.0 L932.2 561.3 L933.0 560.8 L933.8 562.7 L934.6 565.8 L935.4 565.0 L936.2 564.2 L937.0 565.2 L937.8 564.2 L938.6 563.5 L939.4 563.3 L940.2 561.2 L941.0 561.5 L941.8 564.7 L942.6 565.3 L943.4 565.9 L944.2 564.8 L945.0 563.6 L945.8 561.3 L946.6 562.8 L947.4 563.1 L948.2 563.8 L949.0 563.7 L949.8 563.7 L950.6 563.3 L951.4 563.3 L952.2 564.4 L953.0 563.4 L953.8 562.4 L954.6 560.8 L955.4 562.0 L956.2 562.6 L957.0 564.2 L957.8 565.5 L958.6 566.6 L959.4 563.4 L960.2 561.9 L961.0 561.2 L961.8 564.2 L962.6 564.7 L963.4 562.6 L964.2 560.4 L965.0 562.4 L965.8 562.7 L966.6 561.8 L967.4 559.8 L968.2 560.1 L969.0 562.1 L969.8 564.6 L970.6 567.8 L971.4 565.6 L972.2 563.2 L973.0 562.5 L973.8 562.6 L974.6 562.7 L975.4 563.1 L976.2 565.0 L977.0 563.7 L977.8 562.1 L978.6 562.3 L979.4 561.3 L980.2 562.8 L981.0 563.2 L981.8 564.0 L982.6 565.1 L983.4 564.2 L984.2 564.1 L985.0 563.2 L985.8 561.2 L986.6 559.3 L987.4 560.6 L988.2 564.2 L989.0 564.5 L989.8 561.4 L990.6 559.5 L991.4 560.3 L992.2 561.1 L993.0 561.7 L993.8 563.7 L994.6 564.4 L995.4 563.4 L996.0 563.0" fill="none" stroke="#0000FF" stroke-width="4.8" stroke-linejoin="round" stroke-linecap="round"/>
<path d="M57.0 679.5 L57.8 679.3 L58.6 679.8 L59.4 679.0 L60.2 679.2 L61.0 679.2 L61.8 679.4 L62.6 681.1 L63.4 681.6 L63.7 679.0 L64.2 677.5 L65.0 674.0 L65.8 674.3 L66.6 675.7 L67.4 674.2 L67.9 674.0 L68.2 672.5 L69.0 671.3 L69.8 669.8 L70.6 666.0 L71.4 666.4 L72.2 668.7 L73.0 673.3 L73.4 674.0 L73.8 675.4 L74.6 676.5 L75.4 678.0 L76.1 681.0 L76.2 680.4 L77.0 680.6 L77.8 681.1 L78.6 680.3 L79.4 679.1 L80.2 677.7 L81.0 678.0 L81.8 677.6 L82.6 678.3 L83.4 680.5 L84.2 682.8 L85.0 679.8 L85.7 679.0 L85.8 676.2 L86.6 676.9 L87.4 678.1 L88.2 679.9 L89.0 681.1 L89.8 680.3 L90.6 680.8 L91.4 680.6 L92.2 680.5 L93.0 681.0 L93.8 680.1 L94.6 679.8 L95.3 682.0 L95.4 681.8 L96.2 681.5 L97.0 682.1 L97.8 681.0 L98.6 678.6 L99.4 678.9 L100.2 679.8 L101.0 681.2 L101.8 679.5 L102.6 679.4 L103.4 679.1 L104.2 679.4 L105.0 679.5 L105.8 678.9 L106.6 678.8 L107.4 678.3 L108.2 679.0 L109.0 678.6 L109.8 678.2 L110.4 677.0 L110.6 678.5 L111.4 678.8 L112.2 679.1 L113.0 681.0 L113.8 684.0 L113.9 682.0 L114.6 677.3 L115.4 668.2 L116.2 661.7 L116.6 659.0 L117.0 660.8 L117.8 669.4 L118.6 678.4 L118.7 679.5 L119.4 680.3 L120.2 681.6 L121.0 683.3 L121.4 683.5 L121.8 683.2 L122.6 682.2 L123.4 681.0 L124.2 681.4 L125.0 682.2 L125.8 681.8 L126.6 680.4 L127.4 679.6 L128.2 679.7 L128.3 679.5 L129.0 678.9 L129.8 677.5 L130.6 675.6 L131.4 672.8 L132.2 670.5 L132.4 671.4 L133.0 668.8 L133.8 667.2 L134.6 666.0 L135.2 666.0 L135.4 664.6 L136.2 662.1 L137.0 658.9 L137.8 654.9 L138.6 651.1 L139.0 651.0 L139.4 652.5 L140.2 655.6 L141.0 659.6 L141.8 663.6 L142.0 663.0 L142.6 665.8 L143.4 668.8 L144.2 672.3 L144.8 677.0 L145.0 675.7 L145.8 675.6 L146.6 676.9 L147.4 675.2 L148.2 674.6 L148.9 674.0 L149.0 671.7 L149.8 673.0 L150.6 675.0 L151.4 678.2 L152.2 678.6 L153.0 679.1 L153.8 679.0 L154.4 679.5 L154.6 679.4 L155.4 677.0 L156.2 674.8 L157.0 674.2 L157.8 671.9 L158.5 671.5 L158.6 670.8 L159.4 672.7 L160.2 675.9 L161.0 679.8 L161.8 682.5 L162.6 683.0 L162.7 682.4 L163.4 681.5 L164.2 681.4 L165.0 681.8 L165.8 681.6 L166.6 679.6 L167.4 679.1 L168.2 678.4 L169.0 678.1 L169.8 676.8 L170.6 677.1 L170.9 675.6 L171.4 677.7 L172.2 677.1 L173.0 677.2 L173.8 677.6 L174.6 676.5 L175.4 675.2 L176.2 674.7 L177.0 674.2 L177.8 674.6 L178.6 674.7 L179.1 674.2 L179.4 673.8 L180.2 673.8 L181.0 676.3 L181.8 677.8 L182.6 678.6 L183.4 682.0 L184.2 684.7 L184.6 683.8 L185.0 684.2 L185.8 682.9 L186.6 682.1 L187.4 681.3 L188.2 681.5 L189.0 679.6 L189.8 677.3 L190.0 677.0 L190.6 675.8 L191.4 676.2 L192.2 676.7 L193.0 677.0 L193.8 677.6 L194.6 678.4 L195.4 678.7 L196.2 679.7 L197.0 680.0 L197.8 678.0 L198.6 677.3 L199.4 678.9 L200.0 679.0 L200.2 678.4 L201.0 678.6 L201.8 678.3 L202.6 677.0 L203.4 675.7 L204.2 675.5 L204.7 676.0 L205.0 675.1 L205.8 674.4 L206.6 674.6 L207.4 673.3 L208.2 673.5 L209.0 672.9 L209.8 672.7 L210.6 675.1 L211.0 673.0 L211.4 677.6 L212.2 677.9 L213.0 678.1 L213.8 679.9 L214.6 681.3 L215.4 683.2 L216.2 688.1 L216.5 688.5 L217.0 688.3 L217.8 686.9 L218.6 685.4 L219.4 683.5 L220.2 680.0 L221.0 675.8 L221.8 674.1 L222.0 676.0 L222.6 676.8 L223.4 678.2 L224.2 680.8 L225.0 682.0 L225.8 683.3 L226.6 685.3 L226.7 685.0 L227.4 683.7 L228.2 682.4 L229.0 680.0 L229.8 677.2 L230.6 675.3 L231.4 675.0 L232.2 665.1 L233.0 657.0 L233.8 649.0 L234.6 642.8 L235.4 636.7 L236.2 630.9 L236.5 630.0 L237.0 633.4 L237.8 639.8 L238.6 645.6 L239.2 649.0 L239.4 651.0 L240.2 659.6 L241.0 667.9 L241.6 674.0 L241.8 677.2 L242.6 677.3 L243.4 676.3 L244.2 676.5 L245.0 676.8 L245.5 677.0 L245.8 676.1 L246.6 677.2 L247.4 677.5 L248.2 678.5 L249.0 678.5 L249.8 680.2 L250.6 680.0 L251.4 680.6 L252.2 683.4 L252.4 684.0 L253.0 683.4 L253.8 681.2 L254.6 679.7 L255.4 677.3 L256.2 676.0 L257.0 676.2 L257.8 675.7 L257.9 674.4 L258.6 675.3 L259.4 674.9 L260.2 674.0 L261.0 674.0 L261.8 673.1 L262.6 672.4 L263.4 672.3 L264.2 671.9 L265.0 672.6 L265.8 672.9 L266.1 673.0 L266.6 673.9 L267.4 675.3 L268.2 675.3 L269.0 677.3 L269.8 678.9 L270.6 680.6 L271.4 681.8 L271.6 682.7 L272.2 681.9 L273.0 681.0 L273.8 680.5 L274.6 681.8 L275.4 682.4 L276.2 682.4 L277.0 682.7 L277.8 681.9 L278.6 681.2 L279.4 680.6 L280.2 678.1 L281.0 677.0 L281.2 678.5 L281.8 677.8 L282.6 678.1 L283.4 678.6 L284.2 677.1 L285.0 676.5 L285.8 677.7 L286.6 678.9 L287.4 679.0 L288.1 675.8 L288.2 678.3 L289.0 682.4 L289.8 683.7 L290.6 685.2 L290.8 685.4 L291.4 685.2 L292.2 683.0 L293.0 681.8 L293.8 682.1 L294.6 681.7 L295.4 681.7 L296.2 678.2 L297.0 677.6 L297.8 676.6 L298.6 675.3 L299.4 675.1 L300.2 675.3 L300.4 675.8 L301.0 678.5 L301.8 679.0 L302.6 679.9 L303.4 680.2 L304.2 681.6 L305.0 683.2 L305.8 685.0 L305.9 684.0 L306.6 683.6 L307.4 681.1 L308.2 678.1 L309.0 676.5 L309.8 674.6 L310.1 674.4 L310.6 675.7 L311.4 678.7 L312.2 681.6 L313.0 684.0 L313.8 687.4 L314.6 690.7 L314.9 692.3 L315.4 688.2 L316.2 683.6 L317.0 680.0 L317.8 675.5 L318.6 672.4 L319.0 668.9 L319.4 671.1 L320.2 674.2 L321.0 672.9 L321.8 673.8 L322.4 678.5 L322.6 674.6 L323.4 672.6 L324.2 669.6 L325.0 664.9 L325.8 661.5 L326.6 659.3 L327.4 657.9 L327.9 655.2 L328.2 655.2 L329.0 651.3 L329.8 650.3 L330.6 648.6 L330.7 649.7 L331.4 639.8 L332.2 629.3 L333.0 616.1 L333.4 611.2 L333.8 606.7 L334.6 598.2 L335.3 592.0 L335.4 590.8 L336.2 589.4 L336.9 587.5 L337.0 589.5 L337.8 591.4 L338.4 592.0 L338.6 594.8 L339.4 606.3 L339.6 611.2 L340.2 618.6 L341.0 628.8 L341.8 640.1 L342.3 646.9 L342.6 650.3 L343.4 658.0 L344.2 663.4 L345.0 670.0 L345.1 671.7 L345.8 676.4 L346.6 680.9 L347.2 682.7 L347.4 683.8 L348.2 679.9 L349.0 677.7 L349.8 676.9 L350.6 678.0 L351.4 675.7 L352.2 673.2 L353.0 672.6 L353.8 668.9 L354.0 668.9 L354.6 669.4 L355.4 670.6 L356.2 671.6 L357.0 673.1 L357.8 673.6 L358.1 674.4 L358.6 675.4 L359.4 677.8 L360.2 681.9 L360.9 684.0 L361.0 684.1 L361.8 681.6 L362.6 680.4 L363.4 682.3 L364.2 680.9 L365.0 678.8 L365.8 675.3 L366.6 673.5 L367.4 672.9 L368.2 671.7 L368.4 671.7 L369.0 673.5 L369.8 675.4 L370.6 676.9 L371.4 678.8 L371.9 681.3 L372.2 679.0 L373.0 679.1 L373.8 677.7 L374.6 677.0 L375.4 674.3 L376.2 672.7 L377.0 670.8 L377.8 670.3 L378.6 669.2 L379.4 668.0 L380.0 666.2 L380.2 669.1 L381.0 670.8 L381.4 668.9 L381.8 672.8 L382.6 672.9 L383.4 673.2 L384.2 675.4 L385.0 678.3 L385.5 679.9 L385.8 678.6 L386.6 678.2 L387.4 676.8 L388.2 675.8 L388.9 674.4 L389.0 676.6 L389.8 678.2 L390.6 677.5 L391.4 678.5 L392.2 679.8 L393.0 682.7 L393.8 681.1 L394.6 677.8 L395.4 678.2 L395.8 678.5 L396.2 681.8 L397.0 685.5 L397.8 688.9 L397.9 686.8 L398.6 687.7 L399.4 685.0 L400.2 684.0 L401.0 682.2 L401.8 679.9 L402.6 679.3 L403.4 679.9 L404.2 677.2 L405.0 679.5 L405.8 680.6 L406.6 679.6 L407.4 678.7 L407.5 677.2 L408.2 675.0 L409.0 671.6 L409.8 669.4 L410.6 667.7 L411.4 667.3 L411.6 666.2 L412.2 661.8 L413.0 655.0 L413.8 647.5 L414.6 641.3 L415.4 635.5 L415.7 631.8 L416.2 626.4 L417.0 617.4 L417.8 605.7 L418.5 597.5 L418.6 595.0 L419.4 592.3 L420.1 587.2 L420.2 587.5 L421.0 591.6 L421.8 596.4 L421.9 597.5 L422.6 607.3 L423.4 620.2 L424.0 631.8 L424.2 632.9 L425.0 644.7 L425.8 657.0 L426.6 669.6 L426.7 671.7 L427.4 668.1 L428.2 665.7 L429.0 662.5 L429.8 659.8 L430.1 657.9 L430.6 660.2 L431.4 662.1 L432.2 663.7 L432.9 667.5 L433.0 664.6 L433.8 655.9 L434.6 646.0 L435.0 645.6 L435.4 643.7 L436.2 644.6 L437.0 641.6 L437.8 639.2 L438.6 636.8 L438.8 636.6 L439.4 640.2 L440.2 642.2 L441.0 644.1 L441.8 646.9 L442.6 650.5 L443.4 657.8 L444.2 664.7 L445.0 671.8 L445.8 678.0 L445.9 679.9 L446.6 677.7 L447.4 677.4 L448.2 676.5 L449.0 675.6 L449.8 674.2 L450.1 673.0 L450.6 672.6 L451.4 671.4 L452.2 672.0 L453.0 671.5 L453.8 668.9 L454.2 668.9 L454.6 668.1 L455.4 666.5 L456.2 665.7 L457.0 663.6 L457.8 661.1 L458.3 660.7 L458.6 662.0 L459.4 664.8 L460.2 669.7 L461.0 675.6 L461.7 678.5 L461.8 679.9 L462.6 678.7 L463.4 676.0 L464.2 674.2 L465.0 672.1 L465.2 671.7 L465.8 672.3 L466.6 669.1 L467.4 666.5 L468.2 664.2 L469.0 662.3 L469.8 658.6 L470.6 653.5 L470.7 653.8 L471.4 653.2 L472.2 655.5 L473.0 655.3 L473.8 654.0 L474.6 651.1 L474.8 653.8 L475.4 654.9 L476.2 660.0 L477.0 664.8 L477.5 668.9 L477.8 669.5 L478.6 672.3 L479.4 673.1 L480.2 671.1 L481.0 673.8 L481.8 675.6 L482.6 677.3 L483.4 679.6 L484.2 680.6 L484.4 679.9 L485.0 679.9 L485.8 679.5 L486.6 678.9 L487.4 678.8 L488.2 677.5 L489.0 677.6 L489.8 678.3 L489.9 678.5 L490.6 679.2 L491.4 679.1 L492.2 678.9 L493.0 679.0 L493.8 679.4 L494.6 680.5 L495.4 681.3 L496.2 679.6 L497.0 681.3 L497.8 683.2 L498.1 682.7 L498.6 683.9 L499.4 682.2 L500.2 681.0 L501.0 679.8 L501.8 678.9 L502.6 679.4 L503.4 679.3 L503.6 678.5 L504.2 680.7 L505.0 679.3 L505.8 680.7 L506.6 677.6 L507.4 676.5 L508.2 677.7 L509.0 679.2 L509.8 679.5 L510.5 679.9 L510.6 682.2 L511.4 681.4 L512.2 680.7 L513.0 678.2 L513.8 678.5 L514.6 678.3 L515.4 677.9 L516.2 678.0 L517.0 677.4 L517.4 675.8 L517.8 679.0 L518.6 679.0 L519.4 680.2 L520.2 677.3 L521.0 679.7 L521.8 675.1 L522.6 671.5 L523.4 674.4 L524.2 679.5 L525.0 679.9 L525.8 677.6 L526.6 674.9 L527.4 672.5 L528.2 671.7 L529.0 672.2 L529.8 674.5 L530.6 675.8 L531.4 677.4 L532.2 677.6 L533.0 677.6 L533.8 677.4 L534.6 677.8 L535.4 679.6 L536.2 678.3 L537.0 675.6 L537.8 675.8 L538.6 675.5 L539.4 674.8 L540.2 676.2 L541.0 677.1 L541.8 677.8 L542.6 677.0 L543.4 681.6 L544.2 681.9 L545.0 681.9 L545.8 679.6 L546.6 679.7 L547.4 677.9 L548.2 678.6 L549.0 679.1 L549.8 678.3 L550.6 680.2 L551.4 679.1 L552.2 683.1 L553.0 683.3 L553.8 683.4 L554.6 680.7 L555.4 681.4 L556.2 679.5 L557.0 682.0 L557.8 682.6 L558.6 683.1 L559.4 681.3 L560.2 682.0 L561.0 682.6 L561.8 682.1 L562.6 682.3 L563.4 679.0 L564.2 679.6 L565.0 678.2 L565.8 683.6 L566.6 683.5 L567.4 682.5 L568.2 681.1 L569.0 680.7 L569.8 678.9 L570.6 680.3 L571.4 683.2 L572.2 684.7 L573.0 685.4 L573.8 681.0 L574.6 681.6 L575.4 677.5 L576.2 676.2 L577.0 679.0 L577.8 683.7 L578.6 684.9 L579.4 682.8 L580.0 681.0 L580.2 682.7 L581.0 684.9 L581.8 684.8 L582.6 685.6 L583.4 687.6 L584.2 688.7 L584.8 690.0 L585.0 690.3 L585.8 689.0 L586.6 686.9 L587.4 685.7 L588.2 683.7 L589.0 681.0 L589.8 681.5 L590.6 681.9 L591.4 683.7 L592.2 681.3 L593.0 678.6 L593.8 679.2 L594.6 677.5 L595.4 677.2 L596.2 679.3 L597.0 683.4 L597.8 684.1 L598.6 680.5 L599.4 681.1 L600.2 678.1 L601.0 678.2 L601.8 679.0 L602.6 678.7 L603.4 680.5 L604.2 681.3 L605.0 681.3 L605.8 678.8 L606.6 679.7 L607.4 680.3 L608.2 681.7 L609.0 680.6 L609.8 678.5 L610.6 679.9 L611.4 678.2 L612.2 679.6 L613.0 677.2 L613.8 676.8 L614.6 681.4 L615.4 683.0 L616.2 682.1 L617.0 683.4 L617.8 683.0 L618.6 682.9 L619.4 679.0 L620.2 677.5 L621.0 677.8 L621.8 677.4 L622.6 678.3 L623.4 678.4 L624.2 682.1 L625.0 680.4 L625.8 678.4 L626.6 681.3 L627.4 679.7 L628.2 680.8 L629.0 680.2 L629.8 678.1 L630.6 676.9 L631.4 677.5 L632.2 677.7 L633.0 679.5 L633.8 678.5 L634.6 678.9 L635.4 680.5 L636.2 684.8 L637.0 685.6 L637.8 683.7 L638.6 683.5 L639.4 683.6 L640.0 680.2 L640.2 681.8 L641.0 681.7 L641.8 679.5 L642.6 679.4 L643.4 682.2 L644.2 682.2 L644.7 681.8 L645.0 682.1 L645.8 681.4 L646.6 681.1 L647.4 680.1 L648.2 679.9 L649.0 680.2 L649.8 679.4 L650.6 678.7 L651.4 677.2 L652.2 675.7 L653.0 674.7 L653.8 676.1 L654.6 677.1 L655.4 680.4 L656.2 682.2 L657.0 684.4 L657.3 682.6 L657.8 683.7 L658.6 681.8 L659.4 681.9 L660.2 681.7 L661.0 681.8 L661.8 681.3 L662.0 680.2 L662.6 683.3 L663.4 681.6 L664.2 680.8 L665.0 681.9 L665.8 681.8 L666.6 681.8 L667.4 681.9 L668.2 683.7 L668.3 684.2 L669.0 682.7 L669.8 678.6 L670.6 676.3 L671.4 674.0 L672.2 672.3 L673.0 672.2 L673.8 671.0 L674.5 669.2 L674.6 668.5 L675.4 665.8 L676.2 664.2 L676.9 662.2 L677.0 662.0 L677.8 662.5 L678.6 664.5 L679.2 666.9 L679.4 667.1 L680.2 665.9 L681.0 660.5 L681.6 656.7 L681.8 657.9 L682.6 657.7 L683.4 661.7 L684.0 664.5 L684.2 664.1 L685.0 666.5 L685.8 669.2 L686.6 671.0 L687.1 671.6 L687.4 673.5 L688.2 676.0 L689.0 678.3 L689.8 680.2 L690.2 683.4 L690.6 682.4 L691.4 683.5 L692.2 683.5 L693.0 681.3 L693.8 679.2 L694.2 677.1 L694.6 678.8 L695.4 678.8 L696.2 679.6 L697.0 682.0 L697.8 681.4 L698.6 680.2 L699.4 681.1 L700.2 681.5 L701.0 682.6 L701.2 684.2 L701.8 682.1 L702.6 680.9 L703.4 680.5 L704.2 680.7 L705.0 678.3 L705.1 677.9 L705.8 681.1 L706.6 684.8 L707.4 688.4 L707.5 687.3 L708.2 688.2 L709.0 685.5 L709.8 684.7 L710.6 683.8 L711.4 684.0 L712.2 682.0 L713.0 679.0 L713.8 678.7 L714.6 680.4 L715.4 681.9 L716.2 682.8 L717.0 684.1 L717.8 683.6 L718.5 683.4 L718.6 681.9 L719.4 681.6 L720.2 683.4 L721.0 683.1 L721.8 682.9 L722.6 684.4 L723.4 682.2 L724.2 682.8 L725.0 683.8 L725.8 681.8 L726.6 683.2 L727.4 684.1 L728.2 685.8 L729.0 685.5 L729.8 683.1 L730.6 681.7 L731.4 682.3 L732.2 683.2 L733.0 685.3 L733.8 684.8 L734.6 685.3 L735.4 681.8 L736.2 678.5 L737.0 679.3 L737.8 682.8 L738.6 683.0 L739.4 685.3 L740.2 683.5 L741.0 684.8 L741.8 685.1 L742.6 685.8 L743.4 683.4 L744.2 684.2 L745.0 683.2 L745.8 681.0 L746.6 679.8 L747.4 681.1 L748.2 682.5 L749.0 681.5 L749.8 678.8 L750.6 681.6 L751.4 682.3 L752.2 681.7 L753.0 681.2 L753.8 683.1 L754.6 683.9 L755.4 686.7 L756.2 684.0 L757.0 679.7 L757.8 678.0 L758.6 680.0 L759.4 680.8 L760.2 681.8 L761.0 683.1 L761.8 683.1 L762.6 679.1 L763.4 680.5 L764.2 683.4 L765.0 682.1 L765.8 679.9 L766.6 677.6 L767.4 681.4 L768.2 682.7 L769.0 680.5 L769.8 680.5 L770.6 680.8 L771.4 678.5 L772.2 679.0 L773.0 679.0 L773.8 678.1 L774.6 679.4 L775.4 681.4 L776.2 682.3 L777.0 683.8 L777.8 684.9 L778.6 683.7 L779.4 679.7 L780.2 679.8 L781.0 679.2 L781.8 677.2 L782.6 678.7 L783.4 679.5 L784.2 679.1 L785.0 680.5 L785.8 681.6 L786.6 678.9 L787.4 675.8 L788.2 673.5 L789.0 673.9 L789.8 676.9 L790.6 677.0 L791.4 677.5 L792.2 680.1 L793.0 679.3 L793.8 677.2 L794.6 675.9 L795.4 680.1 L796.2 678.8 L797.0 678.1 L797.8 676.6 L798.6 677.0 L799.4 678.8 L800.0 678.7 L800.2 679.6 L801.0 680.2 L801.8 680.0 L802.6 680.0 L803.4 680.4 L804.2 680.2 L805.0 679.9 L805.8 679.4 L806.6 681.7 L807.4 682.4 L808.2 682.3 L809.0 684.1 L809.8 682.9 L810.2 684.2 L810.6 683.0 L811.4 683.3 L812.2 685.0 L813.0 685.2 L813.8 681.9 L814.6 680.4 L815.4 678.4 L816.2 679.0 L817.0 678.2 L817.8 677.9 L818.6 678.6 L819.4 679.8 L819.6 678.7 L820.2 681.0 L821.0 680.6 L821.8 680.8 L822.6 681.4 L823.4 681.5 L824.2 681.3 L825.0 682.7 L825.8 683.3 L825.9 683.4 L826.6 682.7 L827.4 682.3 L828.2 682.4 L829.0 681.0 L829.8 679.1 L830.6 678.5 L831.4 680.4 L832.2 677.9 L833.0 680.3 L833.8 679.7 L834.6 681.3 L835.4 682.0 L836.1 683.4 L836.2 683.4 L837.0 681.4 L837.8 678.8 L838.6 677.1 L839.4 675.1 L840.2 672.7 L841.0 671.3 L841.8 669.7 L842.4 669.2 L842.6 668.1 L843.4 668.2 L844.2 668.8 L845.0 669.0 L845.8 671.9 L846.6 673.5 L847.1 675.5 L847.4 675.5 L848.2 677.2 L849.0 678.9 L849.8 680.4 L850.6 682.2 L851.4 684.0 L851.8 683.4 L852.2 683.9 L853.0 683.9 L853.8 684.1 L854.6 684.1 L855.4 683.0 L856.2 682.5 L857.0 683.7 L857.8 683.7 L858.6 683.8 L859.4 686.1 L859.7 685.0 L860.2 684.9 L861.0 684.0 L861.8 684.8 L862.6 683.8 L863.4 682.5 L864.2 680.6 L865.0 679.1 L865.8 679.5 L865.9 678.7 L866.6 679.4 L867.4 680.9 L868.2 682.5 L869.0 684.0 L869.8 685.9 L870.6 686.0 L871.4 688.1 L872.2 686.8 L873.0 685.8 L873.8 686.2 L874.6 685.7 L875.4 684.3 L876.2 683.4 L877.0 683.2 L877.8 684.1 L878.5 682.6 L878.6 686.0 L879.4 685.0 L880.2 684.0 L881.0 684.4 L881.8 683.4 L882.6 681.4 L883.4 680.1 L884.2 680.1 L885.0 681.1 L885.8 684.1 L886.6 683.4 L887.4 682.2 L888.2 683.3 L889.0 681.2 L889.8 681.4 L890.6 680.5 L891.4 683.1 L892.2 681.1 L893.0 680.6 L893.8 681.9 L894.6 684.8 L895.4 685.5 L896.2 688.1 L897.0 690.1 L897.8 687.0 L898.6 682.6 L899.4 683.5 L900.2 683.7 L901.0 684.3 L901.8 683.9 L902.6 682.0 L903.4 682.6 L904.2 682.1 L905.0 680.4 L905.8 679.5 L906.6 678.9 L907.4 679.8 L908.2 683.9 L909.0 683.6 L909.8 682.1 L910.6 680.6 L911.4 682.0 L912.2 686.0 L913.0 686.9 L913.8 682.7 L914.6 680.4 L915.4 679.6 L916.2 681.8 L917.0 684.4 L917.8 684.8 L918.6 687.2 L919.4 687.8 L920.2 685.9 L921.0 685.9 L921.8 685.7 L922.6 684.9 L923.4 683.6 L924.2 685.4 L925.0 683.6 L925.8 683.9 L926.6 682.4 L927.4 682.5 L928.2 682.2 L929.0 682.5 L929.8 684.4 L930.6 687.6 L931.4 686.1 L932.2 684.8 L933.0 683.8 L933.8 682.9 L934.6 682.3 L935.4 681.9 L936.2 683.8 L937.0 683.3 L937.8 681.5 L938.6 681.5 L939.4 681.1 L940.2 683.2 L941.0 684.5 L941.8 683.1 L942.6 683.2 L943.4 682.5 L944.2 683.0 L945.0 687.1 L945.8 686.3 L946.6 682.8 L947.4 681.7 L948.2 683.2 L949.0 684.1 L949.8 683.0 L950.6 684.7 L951.4 684.1 L952.2 683.7 L953.0 681.2 L953.8 679.0 L954.6 682.3 L955.4 684.3 L956.2 683.6 L957.0 684.0 L957.8 684.0 L958.6 683.5 L959.4 683.2 L960.2 682.9 L961.0 683.3 L961.8 679.0 L962.6 677.2 L963.4 681.1 L964.2 680.3 L965.0 682.1 L965.8 684.3 L966.6 686.9 L967.4 682.3 L968.2 680.8 L969.0 679.3 L969.8 681.5 L970.6 681.8 L971.4 684.1 L972.2 684.2 L973.0 685.9 L973.8 687.1 L974.6 682.4 L975.4 681.3 L976.2 681.8 L977.0 682.6 L977.8 683.6 L978.6 685.1 L979.4 683.4 L980.2 682.3 L981.0 681.4 L981.8 685.5 L982.6 687.6 L983.4 685.0 L984.2 682.4 L985.0 679.8 L985.8 679.9 L986.6 681.0 L987.4 681.8 L988.2 680.5 L989.0 677.4 L989.8 677.6 L990.6 677.9 L991.4 681.8 L992.2 681.7 L993.0 681.5 L993.8 680.6 L994.6 679.9 L995.4 678.4 L996.0 683.0" fill="none" stroke="#FF0000" stroke-width="4.8" stroke-linejoin="round" stroke-linecap="round"/>
<path d="M73.1 855.5V838.8a3.40 3.40 0 0 1 6.80 0V855.5ZM112.9 855.5V823.9a3.40 3.40 0 0 1 6.80 0V855.5ZM148.1 855.5V838.8a3.40 3.40 0 0 1 6.80 0V855.5ZM180.1 855.5V836.3a3.40 3.40 0 0 1 6.80 0V855.5ZM237.2 855.5V829.3a3.40 3.40 0 0 1 6.80 0V855.5ZM263.3 855.5V832.3a3.40 3.40 0 0 1 6.80 0V855.5ZM287.8 855.5V839.1a3.40 3.40 0 0 1 6.80 0V855.5ZM308.1 855.5V838.5a3.40 3.40 0 0 1 6.80 0V855.5ZM312.0 855.5V838.5a3.40 3.40 0 0 1 6.80 0V855.5ZM333.1 855.5V790.6a3.40 3.40 0 0 1 6.80 0V855.5ZM354.8 855.5V839.1a3.40 3.40 0 0 1 6.80 0V855.5ZM375.4 855.5V839.1a3.40 3.40 0 0 1 6.80 0V855.5ZM415.3 855.5V731.1a3.40 3.40 0 0 1 6.80 0V855.5ZM434.5 855.5V802.8a3.40 3.40 0 0 1 6.80 0V855.5ZM452.9 855.5V831.2a3.40 3.40 0 0 1 6.80 0V855.5ZM470.6 855.5V838.1a3.40 3.40 0 0 1 6.80 0V855.5ZM488.3 855.5V836.1a3.40 3.40 0 0 1 6.80 0V855.5ZM505.1 855.5V833.2a3.40 3.40 0 0 1 6.80 0V855.5ZM522.2 855.5V839.1a3.40 3.40 0 0 1 6.80 0V855.5ZM554.2 855.5V838.1a3.40 3.40 0 0 1 6.80 0V855.5ZM570.3 855.5V834.2a3.40 3.40 0 0 1 6.80 0V855.5ZM585.6 855.5V832.1a3.40 3.40 0 0 1 6.80 0V855.5ZM600.8 855.5V839.4a3.40 3.40 0 0 1 6.80 0V855.5ZM631.0 855.5V836.2a3.40 3.40 0 0 1 6.80 0V855.5ZM645.3 855.5V837.3a3.40 3.40 0 0 1 6.80 0V855.5ZM674.2 855.5V796.3a3.40 3.40 0 0 1 6.80 0V855.5ZM687.8 855.5V831.3a3.40 3.40 0 0 1 6.80 0V855.5ZM701.4 855.5V836.6a3.40 3.40 0 0 1 6.80 0V855.5ZM715.4 855.5V839.0a3.40 3.40 0 0 1 6.80 0V855.5ZM728.8 855.5V837.9a3.40 3.40 0 0 1 6.80 0V855.5ZM742.4 855.5V839.0a3.40 3.40 0 0 1 6.80 0V855.5ZM755.4 855.5V837.3a3.40 3.40 0 0 1 6.80 0V855.5ZM781.3 855.5V838.9a3.40 3.40 0 0 1 6.80 0V855.5ZM794.3 855.5V827.7a3.40 3.40 0 0 1 6.80 0V855.5ZM806.8 855.5V836.3a3.40 3.40 0 0 1 6.80 0V855.5ZM819.8 855.5V838.9a3.40 3.40 0 0 1 6.80 0V855.5ZM832.3 855.5V823.3a3.40 3.40 0 0 1 6.80 0V855.5ZM844.6 855.5V836.7a3.40 3.40 0 0 1 6.80 0V855.5ZM856.9 855.5V838.9a3.40 3.40 0 0 1 6.80 0V855.5ZM880.9 855.5V834.6a3.40 3.40 0 0 1 6.80 0V855.5ZM893.2 855.5V835.0a3.40 3.40 0 0 1 6.80 0V855.5ZM904.6 855.5V836.7a3.40 3.40 0 0 1 6.80 0V855.5ZM916.5 855.5V838.9a3.40 3.40 0 0 1 6.80 0V855.5ZM928.4 855.5V838.9a3.40 3.40 0 0 1 6.80 0V855.5ZM939.6 855.5V838.9a3.40 3.40 0 0 1 6.80 0V855.5ZM951.0 855.5V838.9a3.40 3.40 0 0 1 6.80 0V855.5ZM974.1 855.5V838.9a3.40 3.40 0 0 1 6.80 0V855.5ZM985.6 855.5V835.0a3.40 3.40 0 0 1 6.80 0V855.5Z" fill="#000"/>
<path d="M440.7 997.0V975.6a1.30 1.30 0 0 1 2.60 0V997.0ZM126.7 997.0V980.8a3.40 3.40 0 0 1 6.80 0V997.0ZM247.5 997.0V945.2a3.40 3.40 0 0 1 6.80 0V997.0ZM326.3 997.0V916.9a3.40 3.40 0 0 1 6.80 0V997.0ZM355.3 997.0V906.6a3.40 3.40 0 0 1 6.80 0V997.0ZM413.9 997.0V927.1a3.40 3.40 0 0 1 6.80 0V997.0ZM435.1 997.0V872.9a3.40 3.40 0 0 1 6.80 0V997.0ZM443.8 997.0V910.1a3.40 3.40 0 0 1 6.80 0V997.0ZM493.8 997.0V980.4a3.40 3.40 0 0 1 6.80 0V997.0ZM567.3 997.0V980.1a3.40 3.40 0 0 1 6.80 0V997.0ZM582.6 997.0V931.8a3.40 3.40 0 0 1 6.80 0V997.0ZM588.4 997.0V975.3a3.40 3.40 0 0 1 6.80 0V997.0ZM633.9 997.0V977.7a3.40 3.40 0 0 1 6.80 0V997.0ZM650.2 997.0V959.3a3.40 3.40 0 0 1 6.80 0V997.0ZM694.4 997.0V948.3a3.40 3.40 0 0 1 6.80 0V997.0ZM698.0 997.0V981.3a3.40 3.40 0 0 1 6.80 0V997.0ZM709.7 997.0V954.2a3.40 3.40 0 0 1 6.80 0V997.0ZM712.8 997.0V968.3a3.40 3.40 0 0 1 6.80 0V997.0ZM767.3 997.0V955.3a3.40 3.40 0 0 1 6.80 0V997.0ZM769.6 997.0V963.9a3.40 3.40 0 0 1 6.80 0V997.0ZM774.6 997.0V981.5a3.40 3.40 0 0 1 6.80 0V997.0ZM809.9 997.0V980.1a3.40 3.40 0 0 1 6.80 0V997.0ZM818.8 997.0V974.2a3.40 3.40 0 0 1 6.80 0V997.0ZM823.8 997.0V960.9a3.40 3.40 0 0 1 6.80 0V997.0ZM859.4 997.0V965.3a3.40 3.40 0 0 1 6.80 0V997.0ZM865.9 997.0V973.6a3.40 3.40 0 0 1 6.80 0V997.0ZM876.2 997.0V970.6a3.40 3.40 0 0 1 6.80 0V997.0ZM882.1 997.0V968.9a3.40 3.40 0 0 1 6.80 0V997.0ZM924.7 997.0V979.5a3.40 3.40 0 0 1 6.80 0V997.0ZM929.2 997.0V958.0a3.40 3.40 0 0 1 6.80 0V997.0ZM966.0 997.0V980.1a3.40 3.40 0 0 1 6.80 0V997.0ZM980.7 997.0V975.6a3.40 3.40 0 0 1 6.80 0V997.0Z" fill="#000"/>
<path d="M112.8 1139.0V1015.5a3.40 3.40 0 0 1 6.80 0V1139.0ZM374.0 1139.0V1088.3a3.40 3.40 0 0 1 6.80 0V1139.0ZM414.9 1139.0V1120.1a3.40 3.40 0 0 1 6.80 0V1139.0ZM451.1 1139.0V1014.7a3.40 3.40 0 0 1 6.80 0V1139.0ZM644.6 1139.0V1087.6a3.40 3.40 0 0 1 6.80 0V1139.0ZM729.1 1139.0V1118.5a3.40 3.40 0 0 1 6.80 0V1139.0ZM804.6 1139.0V1093.0a3.40 3.40 0 0 1 6.80 0V1139.0ZM854.0 1139.0V1102.1a3.40 3.40 0 0 1 6.80 0V1139.0ZM903.5 1139.0V1103.3a3.40 3.40 0 0 1 6.80 0V1139.0ZM970.2 1139.0V1119.8a3.40 3.40 0 0 1 6.80 0V1139.0Z" fill="#000"/>
<path d="M63.7 1280.8V1220.3a3.40 3.40 0 0 1 6.80 0V1280.8ZM132.0 1280.8V1157.0a3.40 3.40 0 0 1 6.80 0V1280.8ZM208.5 1280.8V1260.6a3.40 3.40 0 0 1 6.80 0V1280.8ZM228.5 1280.8V1265.3a3.40 3.40 0 0 1 6.80 0V1280.8ZM237.9 1280.8V1220.3a3.40 3.40 0 0 1 6.80 0V1280.8ZM282.1 1280.8V1254.8a3.40 3.40 0 0 1 6.80 0V1280.8ZM298.3 1280.8V1262.3a3.40 3.40 0 0 1 6.80 0V1280.8ZM313.9 1280.8V1265.9a3.40 3.40 0 0 1 6.80 0V1280.8ZM337.4 1280.8V1259.5a3.40 3.40 0 0 1 6.80 0V1280.8ZM351.6 1280.8V1263.3a3.40 3.40 0 0 1 6.80 0V1280.8ZM359.6 1280.8V1261.8a3.40 3.40 0 0 1 6.80 0V1280.8ZM380.5 1280.8V1260.3a3.40 3.40 0 0 1 6.80 0V1280.8ZM414.9 1280.8V1264.7a3.40 3.40 0 0 1 6.80 0V1280.8ZM422.3 1280.8V1264.3a3.40 3.40 0 0 1 6.80 0V1280.8ZM429.0 1280.8V1262.3a3.40 3.40 0 0 1 6.80 0V1280.8ZM441.4 1280.8V1260.3a3.40 3.40 0 0 1 6.80 0V1280.8ZM447.3 1280.8V1263.3a3.40 3.40 0 0 1 6.80 0V1280.8ZM454.6 1280.8V1264.3a3.40 3.40 0 0 1 6.80 0V1280.8ZM461.4 1280.8V1264.7a3.40 3.40 0 0 1 6.80 0V1280.8ZM472.9 1280.8V1264.3a3.40 3.40 0 0 1 6.80 0V1280.8ZM479.1 1280.8V1264.3a3.40 3.40 0 0 1 6.80 0V1280.8ZM520.9 1280.8V1264.7a3.40 3.40 0 0 1 6.80 0V1280.8ZM532.6 1280.8V1264.7a3.40 3.40 0 0 1 6.80 0V1280.8ZM538.0 1280.8V1264.7a3.40 3.40 0 0 1 6.80 0V1280.8ZM560.0 1280.8V1264.7a3.40 3.40 0 0 1 6.80 0V1280.8ZM570.9 1280.8V1265.3a3.40 3.40 0 0 1 6.80 0V1280.8ZM590.0 1280.8V1263.3a2.05 2.05 0 0 1 4.10 0V1280.8ZM595.8 1280.8V1264.6a3.40 3.40 0 0 1 6.80 0V1280.8ZM599.6 1280.8V1265.1a3.40 3.40 0 0 1 6.80 0V1280.8ZM603.4 1280.8V1264.5a3.40 3.40 0 0 1 6.80 0V1280.8ZM614.3 1280.8V1265.0a3.40 3.40 0 0 1 6.80 0V1280.8ZM618.0 1280.8V1264.8a3.40 3.40 0 0 1 6.80 0V1280.8ZM621.6 1280.8V1264.5a3.40 3.40 0 0 1 6.80 0V1280.8ZM625.3 1280.8V1265.0a3.40 3.40 0 0 1 6.80 0V1280.8ZM629.0 1280.8V1264.4a3.40 3.40 0 0 1 6.80 0V1280.8ZM655.5 1280.8V1264.2a2.80 2.80 0 0 1 5.60 0V1280.8ZM670.4 1280.8V1264.5a3.40 3.40 0 0 1 6.80 0V1280.8ZM673.9 1280.8V1264.5a3.40 3.40 0 0 1 6.80 0V1280.8ZM689.0 1280.8V1264.9a3.40 3.40 0 0 1 6.80 0V1280.8ZM691.4 1280.8V1265.3a3.40 3.40 0 0 1 6.80 0V1280.8ZM699.2 1280.8V1264.5a3.40 3.40 0 0 1 6.80 0V1280.8ZM701.5 1280.8V1264.6a3.40 3.40 0 0 1 6.80 0V1280.8ZM703.8 1280.8V1265.1a3.40 3.40 0 0 1 6.80 0V1280.8ZM727.0 1280.8V1265.4a3.40 3.40 0 0 1 6.80 0V1280.8ZM727.5 1280.8V1265.0a3.40 3.40 0 0 1 6.80 0V1280.8ZM736.3 1280.8V1264.8a3.40 3.40 0 0 1 6.80 0V1280.8ZM736.7 1280.8V1265.5a3.40 3.40 0 0 1 6.80 0V1280.8ZM750.3 1280.8V1263.3a2.30 2.30 0 0 1 4.60 0V1280.8ZM754.9 1280.8V1265.3a3.40 3.40 0 0 1 6.80 0V1280.8ZM759.4 1280.8V1264.7a3.40 3.40 0 0 1 6.80 0V1280.8ZM767.2 1280.8V1264.6a3.40 3.40 0 0 1 6.80 0V1280.8ZM768.7 1280.8V1264.5a3.40 3.40 0 0 1 6.80 0V1280.8ZM787.2 1280.8V1264.7a3.40 3.40 0 0 1 6.80 0V1280.8ZM791.3 1280.8V1265.3a3.40 3.40 0 0 1 6.80 0V1280.8ZM795.5 1280.8V1264.6a3.40 3.40 0 0 1 6.80 0V1280.8ZM799.6 1280.8V1265.0a3.40 3.40 0 0 1 6.80 0V1280.8ZM803.7 1280.8V1265.1a3.40 3.40 0 0 1 6.80 0V1280.8ZM817.5 1280.8V1264.6a3.25 3.25 0 0 1 6.50 0V1280.8ZM825.8 1280.8V1265.0a3.40 3.40 0 0 1 6.80 0V1280.8ZM830.1 1280.8V1264.5a3.40 3.40 0 0 1 6.80 0V1280.8ZM834.3 1280.8V1264.5a3.40 3.40 0 0 1 6.80 0V1280.8ZM838.6 1280.8V1264.6a3.40 3.40 0 0 1 6.80 0V1280.8ZM847.3 1280.8V1265.1a3.40 3.40 0 0 1 6.80 0V1280.8ZM851.5 1280.8V1264.9a3.40 3.40 0 0 1 6.80 0V1280.8ZM855.8 1280.8V1264.7a3.40 3.40 0 0 1 6.80 0V1280.8ZM860.0 1280.8V1265.0a3.40 3.40 0 0 1 6.80 0V1280.8ZM864.3 1280.8V1264.9a3.40 3.40 0 0 1 6.80 0V1280.8ZM868.5 1280.8V1264.7a3.40 3.40 0 0 1 6.80 0V1280.8ZM890.2 1280.8V1265.3a3.40 3.40 0 0 1 6.80 0V1280.8ZM892.7 1280.8V1265.2a3.40 3.40 0 0 1 6.80 0V1280.8ZM901.4 1280.8V1264.7a3.40 3.40 0 0 1 6.80 0V1280.8ZM906.0 1280.8V1265.0a3.40 3.40 0 0 1 6.80 0V1280.8ZM910.5 1280.8V1265.0a3.40 3.40 0 0 1 6.80 0V1280.8ZM915.1 1280.8V1265.4a3.40 3.40 0 0 1 6.80 0V1280.8ZM922.8 1280.8V1265.2a3.40 3.40 0 0 1 6.80 0V1280.8ZM927.4 1280.8V1264.7a3.40 3.40 0 0 1 6.80 0V1280.8ZM931.9 1280.8V1265.5a3.40 3.40 0 0 1 6.80 0V1280.8ZM940.5 1280.8V1264.5a3.40 3.40 0 0 1 6.80 0V1280.8ZM942.1 1280.8V1264.9a3.40 3.40 0 0 1 6.80 0V1280.8ZM951.7 1280.8V1265.2a3.40 3.40 0 0 1 6.80 0V1280.8ZM956.3 1280.8V1264.6a3.40 3.40 0 0 1 6.80 0V1280.8ZM960.8 1280.8V1264.9a3.40 3.40 0 0 1 6.80 0V1280.8ZM965.4 1280.8V1264.4a3.40 3.40 0 0 1 6.80 0V1280.8ZM974.1 1280.8V1265.1a3.40 3.40 0 0 1 6.80 0V1280.8ZM978.5 1280.8V1265.2a3.40 3.40 0 0 1 6.80 0V1280.8ZM988.0 1280.8V1265.0a3.40 3.40 0 0 1 6.80 0V1280.8ZM988.7 1280.8V1265.4a3.40 3.40 0 0 1 6.80 0V1280.8ZM651.8 1280.8V1270.7a1.80 1.80 0 0 1 3.60 0V1280.8Z" fill="#000"/>
<path d="M65.1 713.5V704.5 M114.1 713.5V695.6 M163.2 713.5V704.5 M212.2 713.5V695.6 M261.2 713.5V704.5 M310.2 713.5V695.6 M359.3 713.5V704.5 M408.3 713.5V695.6 M457.3 713.5V704.5 M506.3 713.5V695.6 M555.4 713.5V704.5 M604.4 713.5V695.6 M653.4 713.5V704.5 M702.4 713.5V695.6 M751.5 713.5V704.5 M800.5 713.5V695.6 M849.5 713.5V704.5 M898.5 713.5V695.6 M947.6 713.5V704.5" stroke="#000" stroke-width="2.8" stroke-linecap="round" fill="none"/>
<path d="M65.1 855.5V846.5 M114.1 855.5V837.6 M163.2 855.5V846.5 M212.2 855.5V837.6 M261.2 855.5V846.5 M310.2 855.5V837.6 M359.3 855.5V846.5 M408.3 855.5V837.6 M457.3 855.5V846.5 M506.3 855.5V837.6 M555.4 855.5V846.5 M604.4 855.5V837.6 M653.4 855.5V846.5 M702.4 855.5V837.6 M751.5 855.5V846.5 M800.5 855.5V837.6 M849.5 855.5V846.5 M898.5 855.5V837.6 M947.6 855.5V846.5" stroke="#000" stroke-width="2.8" stroke-linecap="round" fill="none"/>
<path d="M65.1 997.0V988.0 M114.1 997.0V979.1 M163.2 997.0V988.0 M212.2 997.0V979.1 M261.2 997.0V988.0 M310.2 997.0V979.1 M359.3 997.0V988.0 M408.3 997.0V979.1 M457.3 997.0V988.0 M506.3 997.0V979.1 M555.4 997.0V988.0 M604.4 997.0V979.1 M653.4 997.0V988.0 M702.4 997.0V979.1 M751.5 997.0V988.0 M800.5 997.0V979.1 M849.5 997.0V988.0 M898.5 997.0V979.1 M947.6 997.0V988.0" stroke="#000" stroke-width="2.8" stroke-linecap="round" fill="none"/>
<path d="M65.1 1139.0V1130.0 M114.1 1139.0V1121.1 M163.2 1139.0V1130.0 M212.2 1139.0V1121.1 M261.2 1139.0V1130.0 M310.2 1139.0V1121.1 M359.3 1139.0V1130.0 M408.3 1139.0V1121.1 M457.3 1139.0V1130.0 M506.3 1139.0V1121.1 M555.4 1139.0V1130.0 M604.4 1139.0V1121.1 M653.4 1139.0V1130.0 M702.4 1139.0V1121.1 M751.5 1139.0V1130.0 M800.5 1139.0V1121.1 M849.5 1139.0V1130.0 M898.5 1139.0V1121.1 M947.6 1139.0V1130.0" stroke="#000" stroke-width="2.8" stroke-linecap="round" fill="none"/>
<path d="M65.1 1280.8V1271.8 M114.1 1280.8V1262.9 M163.2 1280.8V1271.8 M212.2 1280.8V1262.9 M261.2 1280.8V1271.8 M310.2 1280.8V1262.9 M359.3 1280.8V1271.8 M408.3 1280.8V1262.9 M457.3 1280.8V1271.8 M506.3 1280.8V1262.9 M555.4 1280.8V1271.8 M604.4 1280.8V1262.9 M653.4 1280.8V1271.8 M702.4 1280.8V1262.9 M751.5 1280.8V1271.8 M800.5 1280.8V1262.9 M849.5 1280.8V1271.8 M898.5 1280.8V1262.9 M947.6 1280.8V1271.8" stroke="#000" stroke-width="2.8" stroke-linecap="round" fill="none"/>
<rect x="55.3" y="3.5" width="941.3" height="1277.3" fill="none" stroke="#000" stroke-width="3"/>
<line x1="55.3" x2="996.6" y1="713.5" y2="713.5" stroke="#000" stroke-width="3"/>
<line x1="55.3" x2="996.6" y1="855.5" y2="855.5" stroke="#000" stroke-width="3"/>
<line x1="55.3" x2="996.6" y1="997.0" y2="997.0" stroke="#000" stroke-width="3"/>
<line x1="55.3" x2="996.6" y1="1139.0" y2="1139.0" stroke="#000" stroke-width="3"/>
<text x="114.1" y="1328.7" font-family="Liberation Sans, sans-serif" font-size="38.2" text-anchor="middle">15</text>
<text x="212.2" y="1328.7" font-family="Liberation Sans, sans-serif" font-size="38.2" text-anchor="middle">20</text>
<text x="310.2" y="1328.7" font-family="Liberation Sans, sans-serif" font-size="38.2" text-anchor="middle">25</text>
<text x="408.3" y="1328.7" font-family="Liberation Sans, sans-serif" font-size="38.2" text-anchor="middle">30</text>
<text x="506.3" y="1328.7" font-family="Liberation Sans, sans-serif" font-size="38.2" text-anchor="middle">35</text>
<text x="604.4" y="1328.7" font-family="Liberation Sans, sans-serif" font-size="38.2" text-anchor="middle">40</text>
<text x="702.4" y="1328.7" font-family="Liberation Sans, sans-serif" font-size="38.2" text-anchor="middle">45</text>
<text x="800.5" y="1328.7" font-family="Liberation Sans, sans-serif" font-size="38.2" text-anchor="middle">50</text>
<text x="898.5" y="1328.7" font-family="Liberation Sans, sans-serif" font-size="38.2" text-anchor="middle">55</text>
<text x="996.6" y="1328.7" font-family="Liberation Sans, sans-serif" font-size="38.2" text-anchor="middle">60</text>
<text x="382.6" y="1402.6" font-family="Liberation Sans, sans-serif" font-size="44.5">2</text>
<text x="411.2" y="1402.6" font-family="Liberation Serif, serif" font-size="47">θ</text>
<text x="444.8" y="1402.6" font-family="Liberation Sans, sans-serif" font-size="44.5" letter-spacing="1.4">(degree)</text>
<text transform="translate(35,897.6) rotate(-90) scale(1,1.04)" font-family="Liberation Sans, sans-serif" font-size="46.6">Intensity (arb. units)</text>
<text transform="translate(820.8,58.8) scale(1,1.045)" font-family="Liberation Sans, sans-serif" font-size="46.2">Ag 20%</text>
<text transform="translate(831.4,195.6) scale(1,1.045)" font-family="Liberation Sans, sans-serif" font-size="46.2">Ag 15%</text>
<text transform="translate(832.7,328.2) scale(1,1.045)" font-family="Liberation Sans, sans-serif" font-size="46.2">Ag 10%</text>
<text transform="translate(848.2,481.4) scale(1,1.045)" font-family="Liberation Sans, sans-serif" font-size="46.2">Ag 5%</text>
<text transform="translate(843.2,616.0) scale(1,1.045)" font-family="Liberation Sans, sans-serif" font-size="46.2">Ag 0%</text>
<text transform="translate(989.5,749.1) scale(1,1.03)" font-family="Liberation Sans, sans-serif" font-size="42" text-anchor="end">Cubic-SnS</text>
<text transform="translate(985.5,903.6) scale(1,1.02)" font-family="Liberation Sans, sans-serif" font-size="41.8" text-anchor="end">Orthorhombic-SnS</text>
<text x="887.5" y="1041.1" font-family="Liberation Sans, sans-serif" font-size="42">SnS<tspan font-size="25" dy="15">2</tspan></text>
<text x="883.3" y="1183.5" font-family="Liberation Sans, sans-serif" font-size="42">Sn<tspan font-size="25" dy="14.1">2</tspan><tspan dy="-14.1">S</tspan><tspan font-size="25" dy="14.1">3</tspan></text>
<text transform="translate(127.1,818.0) rotate(-90)" font-family="Liberation Sans, sans-serif" font-weight="bold" font-size="22" letter-spacing="0.65">(2 0 0)</text>
<text transform="translate(247.2,822.6) rotate(-90)" font-family="Liberation Sans, sans-serif" font-weight="bold" font-size="22" letter-spacing="0.00">(3 0 0)</text>
<text transform="translate(344.5,783.3) rotate(-90)" font-family="Liberation Sans, sans-serif" font-weight="bold" font-size="22" letter-spacing="0.00">(2 2 2)</text>
<text transform="translate(410.8,785.1) rotate(-90)" font-family="Liberation Sans, sans-serif" font-weight="bold" font-size="22" letter-spacing="0.00">(4 0 0)</text>
<text transform="translate(445.2,797.5) rotate(-90)" font-family="Liberation Sans, sans-serif" font-weight="bold" font-size="22" letter-spacing="0.75">(4 1 0)</text>
<text transform="translate(467.3,811.6) rotate(-90)" font-family="Liberation Sans, sans-serif" font-weight="bold" font-size="22" letter-spacing="0.60">(4 1 1)</text>
<text transform="translate(491.2,825.8) rotate(-90)" font-family="Liberation Sans, sans-serif" font-weight="bold" font-size="22" letter-spacing="0.60">(4 2 0)</text>
<text transform="translate(685.3,789.4) rotate(-90)" font-family="Liberation Sans, sans-serif" font-weight="bold" font-size="22" letter-spacing="0.78">(4 4 0)</text>
<text transform="translate(848.3,820.7) rotate(-90)" font-family="Liberation Sans, sans-serif" font-weight="bold" font-size="22" letter-spacing="0.78">(4 4 1)</text>
<path d="M111.50 87.30L111.50 98.50M106.51 90.36L116.49 95.44M116.49 90.36L106.51 95.44" stroke="#000" stroke-width="1.5" fill="none"/><circle cx="111.50" cy="97.27" r="1.15" fill="#000"/><circle cx="111.50" cy="88.53" r="1.15" fill="#000"/><circle cx="115.39" cy="94.88" r="1.15" fill="#000"/><circle cx="107.61" cy="90.92" r="1.15" fill="#000"/><circle cx="107.61" cy="94.88" r="1.15" fill="#000"/><circle cx="115.39" cy="90.92" r="1.15" fill="#000"/>
<text x="118.6" y="102.4" font-family="Liberation Sans, sans-serif" font-size="29.5">SnS<tspan font-size="16.5" dy="10.6">2</tspan></text>
<path d="M461.90 32.00L461.90 43.20M456.91 35.06L466.89 40.14M466.89 35.06L456.91 40.14" stroke="#000" stroke-width="1.5" fill="none"/><circle cx="461.90" cy="41.97" r="1.15" fill="#000"/><circle cx="461.90" cy="33.23" r="1.15" fill="#000"/><circle cx="465.79" cy="39.58" r="1.15" fill="#000"/><circle cx="458.01" cy="35.62" r="1.15" fill="#000"/><circle cx="458.01" cy="39.58" r="1.15" fill="#000"/><circle cx="465.79" cy="35.62" r="1.15" fill="#000"/>
<text x="469.0" y="47.5" font-family="Liberation Sans, sans-serif" font-size="29.5">Sn<tspan font-size="16.5" dy="10.6">2</tspan><tspan dy="-10.6">S</tspan><tspan font-size="16.5" dy="10.6">3</tspan></text>
<path d="M246.00 451.40L246.00 462.60M241.01 454.46L250.99 459.54M250.99 454.46L241.01 459.54" stroke="#000" stroke-width="1.5" fill="none"/><circle cx="246.00" cy="461.37" r="1.15" fill="#000"/><circle cx="246.00" cy="452.63" r="1.15" fill="#000"/><circle cx="249.89" cy="458.98" r="1.15" fill="#000"/><circle cx="242.11" cy="455.02" r="1.15" fill="#000"/><circle cx="242.11" cy="458.98" r="1.15" fill="#000"/><circle cx="249.89" cy="455.02" r="1.15" fill="#000"/>
<text x="253.1" y="466.5" font-family="Liberation Sans, sans-serif" font-size="29.5">Sn<tspan font-size="16.5" dy="10.6">2</tspan><tspan dy="-10.6">S</tspan><tspan font-size="16.5" dy="10.6">3</tspan></text>
<path d="M139.80 625.40L139.80 636.60M134.81 628.46L144.79 633.54M144.79 628.46L134.81 633.54" stroke="#000" stroke-width="1.5" fill="none"/><circle cx="139.80" cy="635.37" r="1.15" fill="#000"/><circle cx="139.80" cy="626.63" r="1.15" fill="#000"/><circle cx="143.69" cy="632.98" r="1.15" fill="#000"/><circle cx="135.91" cy="629.02" r="1.15" fill="#000"/><circle cx="135.91" cy="632.98" r="1.15" fill="#000"/><circle cx="143.69" cy="629.02" r="1.15" fill="#000"/>
<text x="147.1" y="640.6" font-family="Liberation Sans, sans-serif" font-size="29.5">Sn<tspan font-size="16.5" dy="10.6">2</tspan><tspan dy="-10.6">S</tspan><tspan font-size="16.5" dy="10.6">3</tspan></text>
<line x1="266.9" y1="468.7" x2="275.9" y2="520" stroke="#000" stroke-width="2.5"/>
<path d="M269.4 520.2 L281.6 518.2 L279.3 541.7 Z" fill="#000"/>
</svg></body></html>
